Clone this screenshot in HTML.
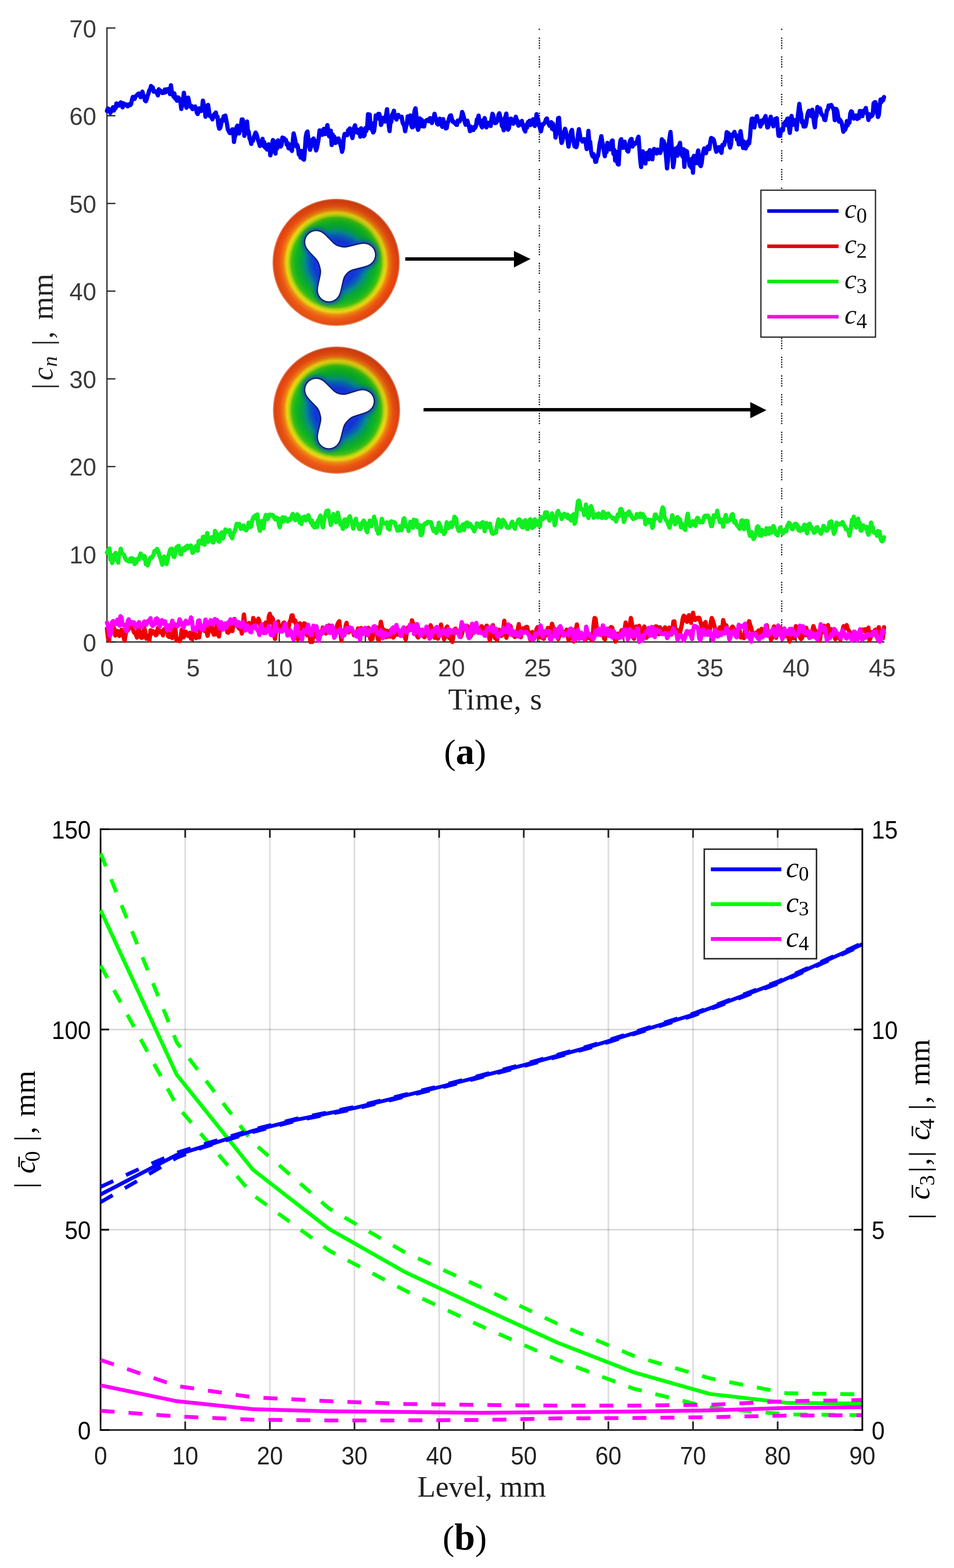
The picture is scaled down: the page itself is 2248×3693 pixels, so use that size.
<!DOCTYPE html>
<html><head><meta charset="utf-8"><title>Figure</title>
<style>
html,body{margin:0;padding:0;background:#fff;}
svg{display:block;}
.tk{font-family:'Liberation Sans', Arial, sans-serif;font-size:57px;}
.lb{font-family:'Liberation Serif', 'Times New Roman', serif;font-size:70px;}
.it{font-style:italic;}
</style></head><body>
<svg width="2248" height="3693" viewBox="0 0 2248 3693">
<defs>
<radialGradient id="ring" cx="0.5" cy="0.5" r="0.5">
<stop offset="0" stop-color="#1434d8"/>
<stop offset="0.34" stop-color="#1434d8"/>
<stop offset="0.42" stop-color="#0860b8"/>
<stop offset="0.49" stop-color="#049088"/>
<stop offset="0.56" stop-color="#06a838"/>
<stop offset="0.64" stop-color="#10b820"/>
<stop offset="0.70" stop-color="#40c010"/>
<stop offset="0.745" stop-color="#c0d810"/>
<stop offset="0.78" stop-color="#f0d810"/>
<stop offset="0.83" stop-color="#f08010"/>
<stop offset="0.89" stop-color="#f05010"/>
<stop offset="0.975" stop-color="#e04010"/>
<stop offset="1" stop-color="#f0a080"/>
</radialGradient>
<linearGradient id="shade" x1="0.7" y1="0" x2="0.3" y2="1">
<stop offset="0" stop-color="#000" stop-opacity="0.12"/>
<stop offset="0.5" stop-color="#000" stop-opacity="0"/>
<stop offset="1" stop-color="#ffff60" stop-opacity="0.10"/>
</linearGradient>
<filter id="goo" filterUnits="userSpaceOnUse" x="600" y="420" width="400" height="720">
<feGaussianBlur in="SourceGraphic" stdDeviation="7" result="b"/>
<feColorMatrix in="b" type="matrix" values="1 0 0 0 0  0 1 0 0 0  0 0 1 0 0  0 0 0 18 -8"/>
</filter>
<filter id="blr" filterUnits="userSpaceOnUse" x="600" y="420" width="400" height="720">
<feGaussianBlur stdDeviation="9"/>
</filter>
<filter id="blr2" filterUnits="userSpaceOnUse" x="600" y="420" width="400" height="720">
<feGaussianBlur stdDeviation="5"/>
</filter>
</defs>
<rect width="2248" height="3693" fill="#fff"/>

<line x1="1271" y1="67.5" x2="1271" y2="1512" stroke="#111" stroke-width="3" stroke-dasharray="3 2.8 3 2.8 3 2.8 3 2.8 3 18" stroke-dashoffset="23.2"/>
<line x1="1842" y1="67.5" x2="1842" y2="1512" stroke="#111" stroke-width="3" stroke-dasharray="3 2.8 3 2.8 3 2.8 3 2.8 3 18" stroke-dashoffset="23.2"/>
<circle cx="792" cy="618" r="150" fill="url(#ring)"/>
<circle cx="792" cy="618" r="150" fill="url(#shade)"/>
<g filter="url(#blr2)" opacity="0.7"><g stroke="#1438e0" stroke-width="68" stroke-linecap="round"><line x1="790" y1="617" x2="745" y2="570"/><line x1="790" y1="617" x2="858" y2="600"/><line x1="790" y1="617" x2="775" y2="684"/></g><circle cx="790" cy="617" r="45" fill="#1438e0"/></g>
<g filter="url(#goo)"><g stroke="#0a1a70" stroke-width="58" stroke-linecap="round"><line x1="790" y1="617" x2="745" y2="570"/><line x1="790" y1="617" x2="858" y2="600"/><line x1="790" y1="617" x2="775" y2="684"/></g><circle cx="790" cy="617" r="40" fill="#0a1a70"/></g>
<g filter="url(#goo)"><g stroke="#fff" stroke-width="52" stroke-linecap="round"><line x1="790" y1="617" x2="745" y2="570"/><line x1="790" y1="617" x2="858" y2="600"/><line x1="790" y1="617" x2="775" y2="684"/></g><circle cx="790" cy="617" r="37" fill="#fff"/></g>
<circle cx="793" cy="966" r="150" fill="url(#ring)"/>
<circle cx="793" cy="966" r="150" fill="url(#shade)"/>
<g filter="url(#blr2)" opacity="0.7"><g stroke="#1438e0" stroke-width="68" stroke-linecap="round"><line x1="791" y1="965" x2="745" y2="918"/><line x1="791" y1="965" x2="855" y2="945"/><line x1="791" y1="965" x2="775" y2="1030"/></g><circle cx="791" cy="965" r="45" fill="#1438e0"/></g>
<g filter="url(#goo)"><g stroke="#0a1a70" stroke-width="58" stroke-linecap="round"><line x1="791" y1="965" x2="745" y2="918"/><line x1="791" y1="965" x2="855" y2="945"/><line x1="791" y1="965" x2="775" y2="1030"/></g><circle cx="791" cy="965" r="40" fill="#0a1a70"/></g>
<g filter="url(#goo)"><g stroke="#fff" stroke-width="52" stroke-linecap="round"><line x1="791" y1="965" x2="745" y2="918"/><line x1="791" y1="965" x2="855" y2="945"/><line x1="791" y1="965" x2="775" y2="1030"/></g><circle cx="791" cy="965" r="37" fill="#fff"/></g>
<line x1="955" y1="610" x2="1214" y2="610" stroke="#000" stroke-width="8"/>
<polygon points="1211,591 1250,610 1211,630" fill="#000"/>
<line x1="998" y1="965" x2="1771" y2="965" stroke="#000" stroke-width="8"/>
<polygon points="1768,947 1806,966 1768,985" fill="#000"/>
<line x1="252" y1="64.5" x2="252" y2="1513.5" stroke="#262626" stroke-width="3"/>
<line x1="250.5" y1="1512" x2="2084" y2="1512" stroke="#262626" stroke-width="3"/>
<line x1="252" y1="1512.0" x2="272" y2="1512.0" stroke="#262626" stroke-width="3"/>
<text class="tk" x="227" y="1533.5" text-anchor="end" fill="#3a3a3a">0</text>
<line x1="252" y1="1305.4" x2="272" y2="1305.4" stroke="#262626" stroke-width="3"/>
<text class="tk" x="227" y="1326.9" text-anchor="end" fill="#3a3a3a">10</text>
<line x1="252" y1="1098.9" x2="272" y2="1098.9" stroke="#262626" stroke-width="3"/>
<text class="tk" x="227" y="1120.4" text-anchor="end" fill="#3a3a3a">20</text>
<line x1="252" y1="892.3" x2="272" y2="892.3" stroke="#262626" stroke-width="3"/>
<text class="tk" x="227" y="913.8" text-anchor="end" fill="#3a3a3a">30</text>
<line x1="252" y1="685.7" x2="272" y2="685.7" stroke="#262626" stroke-width="3"/>
<text class="tk" x="227" y="707.2" text-anchor="end" fill="#3a3a3a">40</text>
<line x1="252" y1="479.2" x2="272" y2="479.2" stroke="#262626" stroke-width="3"/>
<text class="tk" x="227" y="500.7" text-anchor="end" fill="#3a3a3a">50</text>
<line x1="252" y1="272.6" x2="272" y2="272.6" stroke="#262626" stroke-width="3"/>
<text class="tk" x="227" y="294.1" text-anchor="end" fill="#3a3a3a">60</text>
<line x1="252" y1="66.0" x2="272" y2="66.0" stroke="#262626" stroke-width="3"/>
<text class="tk" x="227" y="87.5" text-anchor="end" fill="#3a3a3a">70</text>
<line x1="252.0" y1="1512" x2="252.0" y2="1492" stroke="#262626" stroke-width="3"/>
<text class="tk" x="252.0" y="1593" text-anchor="middle" fill="#3a3a3a">0</text>
<line x1="455.0" y1="1512" x2="455.0" y2="1492" stroke="#262626" stroke-width="3"/>
<text class="tk" x="455.0" y="1593" text-anchor="middle" fill="#3a3a3a">5</text>
<line x1="658.0" y1="1512" x2="658.0" y2="1492" stroke="#262626" stroke-width="3"/>
<text class="tk" x="658.0" y="1593" text-anchor="middle" fill="#3a3a3a">10</text>
<line x1="861.0" y1="1512" x2="861.0" y2="1492" stroke="#262626" stroke-width="3"/>
<text class="tk" x="861.0" y="1593" text-anchor="middle" fill="#3a3a3a">15</text>
<line x1="1064.0" y1="1512" x2="1064.0" y2="1492" stroke="#262626" stroke-width="3"/>
<text class="tk" x="1064.0" y="1593" text-anchor="middle" fill="#3a3a3a">20</text>
<line x1="1267.0" y1="1512" x2="1267.0" y2="1492" stroke="#262626" stroke-width="3"/>
<text class="tk" x="1267.0" y="1593" text-anchor="middle" fill="#3a3a3a">25</text>
<line x1="1470.0" y1="1512" x2="1470.0" y2="1492" stroke="#262626" stroke-width="3"/>
<text class="tk" x="1470.0" y="1593" text-anchor="middle" fill="#3a3a3a">30</text>
<line x1="1673.0" y1="1512" x2="1673.0" y2="1492" stroke="#262626" stroke-width="3"/>
<text class="tk" x="1673.0" y="1593" text-anchor="middle" fill="#3a3a3a">35</text>
<line x1="1876.0" y1="1512" x2="1876.0" y2="1492" stroke="#262626" stroke-width="3"/>
<text class="tk" x="1876.0" y="1593" text-anchor="middle" fill="#3a3a3a">40</text>
<line x1="2079.0" y1="1512" x2="2079.0" y2="1492" stroke="#262626" stroke-width="3"/>
<text class="tk" x="2079.0" y="1593" text-anchor="middle" fill="#3a3a3a">45</text>
<polyline points="252.0,261.4 254.0,255.6 256.1,256.2 258.1,261.0 260.1,266.2 262.2,260.9 264.2,258.7 266.3,252.5 268.3,260.5 270.3,252.9 272.4,254.9 274.4,243.6 276.4,249.0 278.5,248.9 280.5,248.5 282.6,243.2 284.6,241.2 286.6,242.4 288.7,252.9 290.7,243.2 292.7,247.8 294.8,247.8 296.8,245.7 298.8,246.3 300.9,250.5 302.9,249.0 305.0,245.2 307.0,247.7 309.0,244.9 311.1,234.7 313.1,228.2 315.1,231.2 317.2,233.0 319.2,227.8 321.3,225.0 323.3,223.6 325.3,221.3 327.4,220.2 329.4,226.2 331.4,229.0 333.5,226.1 335.5,215.8 337.5,223.4 339.6,227.4 341.6,236.8 343.7,238.5 345.7,233.9 347.7,226.1 349.8,220.2 351.8,212.9 353.8,210.6 355.9,202.5 357.9,207.1 359.9,205.7 362.0,215.8 364.0,213.9 366.1,215.4 368.1,218.0 370.1,219.7 372.2,224.7 374.2,210.3 376.2,215.0 378.3,213.8 380.3,216.5 382.4,219.1 384.4,215.7 386.4,218.5 388.5,210.7 390.5,217.3 392.5,210.6 394.6,210.3 396.6,209.6 398.6,213.5 400.7,221.7 402.7,200.8 404.8,215.0 406.8,218.5 408.8,227.5 410.9,220.1 412.9,232.5 414.9,229.1 417.0,237.3 419.0,229.3 421.1,230.4 423.1,233.7 425.1,240.1 427.2,256.7 429.2,246.9 431.2,237.2 433.3,218.4 435.3,231.4 437.3,244.9 439.4,253.8 441.4,234.8 443.5,229.9 445.5,239.6 447.5,248.3 449.6,251.9 451.6,249.7 453.6,257.0 455.7,255.6 457.7,253.5 459.8,250.6 461.8,255.1 463.8,265.5 465.9,268.6 467.9,260.8 469.9,254.9 472.0,261.5 474.0,261.5 476.0,257.9 478.1,237.0 480.1,245.6 482.2,252.4 484.2,274.9 486.2,267.9 488.3,250.1 490.3,247.1 492.3,260.1 494.4,273.6 496.4,275.0 498.4,274.0 500.5,281.2 502.5,276.2 504.6,269.1 506.6,268.1 508.6,264.9 510.7,275.7 512.7,275.1 514.7,295.4 516.8,303.2 518.8,301.6 520.9,293.3 522.9,281.9 524.9,284.8 527.0,274.1 529.0,273.9 531.0,272.2 533.1,282.5 535.1,293.3 537.1,305.6 539.2,309.3 541.2,313.3 543.3,313.5 545.3,312.3 547.3,304.8 549.4,304.8 551.4,334.3 553.4,320.8 555.5,317.9 557.5,299.4 559.6,295.9 561.6,302.0 563.6,314.2 565.7,305.7 567.7,297.4 569.7,281.6 571.8,281.5 573.8,292.2 575.8,319.9 577.9,313.6 579.9,305.0 582.0,286.3 584.0,306.5 586.0,310.1 588.1,326.2 590.1,330.5 592.1,339.0 594.2,328.0 596.2,331.8 598.3,322.2 600.3,317.7 602.3,312.2 604.4,315.9 606.4,323.3 608.4,331.3 610.5,336.9 612.5,343.8 614.5,337.4 616.6,337.0 618.6,327.0 620.7,343.5 622.7,334.9 624.7,347.7 626.8,341.8 628.8,352.1 630.8,350.1 632.9,340.0 634.9,343.5 637.0,366.0 639.0,359.0 641.0,340.7 643.1,329.8 645.1,332.8 647.1,345.7 649.2,361.7 651.2,333.9 653.2,349.3 655.3,330.4 657.3,343.0 659.4,343.0 661.4,345.3 663.4,341.6 665.5,323.9 667.5,324.9 669.5,326.0 671.6,329.6 673.6,329.5 675.6,340.5 677.7,336.6 679.7,348.9 681.8,339.8 683.8,350.4 685.8,351.6 687.9,355.4 689.9,334.2 691.9,314.3 694.0,322.5 696.0,331.7 698.1,345.0 700.1,341.0 702.1,346.5 704.2,364.0 706.2,360.7 708.2,371.1 710.3,355.4 712.3,370.7 714.3,374.6 716.4,376.1 718.4,353.5 720.5,322.5 722.5,313.0 724.5,309.8 726.6,327.4 728.6,344.6 730.6,352.8 732.7,345.3 734.7,330.5 736.8,328.3 738.8,326.3 740.8,330.2 742.9,346.9 744.9,354.3 746.9,348.0 749.0,337.2 751.0,325.7 753.0,307.2 755.1,307.7 757.1,310.3 759.2,317.6 761.2,306.8 763.2,303.4 765.3,315.8 767.3,315.4 769.3,306.1 771.4,294.7 773.4,307.6 775.5,321.1 777.5,316.9 779.5,307.8 781.6,341.6 783.6,316.4 785.6,331.8 787.7,321.9 789.7,336.7 791.7,336.3 793.8,329.7 795.8,326.4 797.9,326.3 799.9,332.2 801.9,339.6 804.0,346.7 806.0,357.6 808.0,349.8 810.1,324.7 812.1,315.4 814.1,316.1 816.2,316.4 818.2,318.6 820.3,306.7 822.3,308.5 824.3,302.4 826.4,307.1 828.4,317.1 830.4,325.2 832.5,314.6 834.5,300.3 836.6,295.1 838.6,305.1 840.6,311.7 842.7,305.4 844.7,313.8 846.7,305.7 848.8,321.9 850.8,302.3 852.8,308.6 854.9,307.6 856.9,321.0 859.0,318.7 861.0,301.5 863.0,308.8 865.1,300.7 867.1,269.0 869.1,269.8 871.2,269.9 873.2,302.8 875.3,289.6 877.3,306.4 879.3,312.0 881.4,308.8 883.4,293.9 885.4,271.9 887.5,280.1 889.5,277.9 891.5,268.2 893.6,268.2 895.6,275.1 897.7,294.4 899.7,289.5 901.7,278.3 903.8,277.3 905.8,282.0 907.8,286.2 909.9,270.2 911.9,257.3 914.0,276.7 916.0,294.7 918.0,308.7 920.1,286.9 922.1,287.2 924.1,269.3 926.2,267.4 928.2,260.7 930.2,272.0 932.3,278.2 934.3,281.6 936.4,274.3 938.4,270.5 940.4,274.8 942.5,274.8 944.5,276.9 946.5,275.0 948.6,288.2 950.6,292.9 952.7,296.4 954.7,309.1 956.7,298.8 958.8,290.9 960.8,274.2 962.8,274.0 964.9,275.2 966.9,271.9 968.9,295.0 971.0,299.8 973.0,299.2 975.1,273.4 977.1,260.4 979.1,255.1 981.2,273.4 983.2,299.9 985.2,305.8 987.3,298.6 989.3,278.7 991.3,283.5 993.4,282.0 995.4,297.6 997.5,293.6 999.5,297.7 1001.5,285.5 1003.6,285.1 1005.6,282.8 1007.6,282.7 1009.7,285.5 1011.7,279.6 1013.8,278.2 1015.8,281.3 1017.8,289.8 1019.9,281.5 1021.9,278.4 1023.9,268.0 1026.0,276.9 1028.0,280.0 1030.0,291.3 1032.1,293.2 1034.1,288.1 1036.2,279.4 1038.2,288.5 1040.2,294.1 1042.3,298.8 1044.3,280.4 1046.3,291.9 1048.4,288.6 1050.4,302.5 1052.5,301.8 1054.5,290.8 1056.5,285.1 1058.6,277.8 1060.6,272.3 1062.6,271.9 1064.7,279.6 1066.7,286.7 1068.7,286.0 1070.8,289.7 1072.8,290.1 1074.9,293.9 1076.9,294.0 1078.9,283.9 1081.0,283.9 1083.0,285.9 1085.0,281.4 1087.1,275.1 1089.1,263.7 1091.2,269.5 1093.2,276.8 1095.2,287.9 1097.3,293.9 1099.3,287.3 1101.3,284.2 1103.4,292.2 1105.4,298.8 1107.4,308.9 1109.5,298.5 1111.5,306.3 1113.6,305.6 1115.6,306.1 1117.6,298.8 1119.7,300.9 1121.7,296.3 1123.7,281.4 1125.8,279.7 1127.8,272.3 1129.8,290.1 1131.9,283.2 1133.9,295.6 1136.0,299.9 1138.0,287.9 1140.0,283.0 1142.1,278.0 1144.1,287.7 1146.1,300.1 1148.2,297.0 1150.2,289.0 1152.3,290.5 1154.3,291.4 1156.3,296.7 1158.4,279.2 1160.4,267.9 1162.4,272.1 1164.5,283.9 1166.5,289.9 1168.5,289.6 1170.6,287.1 1172.6,283.3 1174.7,270.3 1176.7,266.8 1178.7,275.3 1180.8,282.8 1182.8,296.9 1184.8,296.0 1186.9,306.8 1188.9,279.5 1191.0,275.0 1193.0,267.5 1195.0,284.4 1197.1,305.5 1199.1,302.1 1201.1,290.6 1203.2,279.4 1205.2,279.8 1207.2,285.9 1209.3,291.5 1211.3,290.1 1213.4,286.3 1215.4,274.9 1217.4,281.1 1219.5,284.6 1221.5,295.9 1223.5,294.7 1225.6,292.8 1227.6,290.7 1229.7,284.8 1231.7,294.1 1233.7,299.3 1235.8,306.3 1237.8,309.7 1239.8,294.1 1241.9,300.8 1243.9,287.6 1245.9,294.2 1248.0,284.2 1250.0,294.7 1252.1,291.8 1254.1,286.3 1256.1,280.9 1258.2,281.2 1260.2,296.8 1262.2,290.5 1264.3,268.9 1266.3,277.0 1268.4,283.3 1270.4,295.7 1272.4,301.3 1274.5,309.7 1276.5,301.0 1278.5,292.4 1280.6,292.6 1282.6,290.4 1284.6,287.4 1286.7,280.8 1288.7,278.9 1290.8,288.0 1292.8,291.0 1294.8,296.3 1296.9,294.9 1298.9,287.7 1300.9,303.5 1303.0,291.2 1305.0,306.1 1307.0,296.9 1309.1,324.0 1311.1,312.3 1313.2,300.1 1315.2,278.5 1317.2,277.4 1319.3,304.9 1321.3,323.4 1323.3,336.6 1325.4,332.0 1327.4,315.4 1329.5,310.5 1331.5,303.2 1333.5,310.3 1335.6,322.1 1337.6,331.4 1339.6,345.3 1341.7,333.0 1343.7,322.6 1345.7,310.2 1347.8,306.0 1349.8,323.0 1351.9,334.7 1353.9,344.6 1355.9,345.7 1358.0,346.6 1360.0,339.7 1362.0,318.1 1364.1,304.3 1366.1,314.6 1368.2,328.0 1370.2,328.8 1372.2,333.4 1374.3,329.1 1376.3,327.6 1378.3,328.3 1380.4,337.9 1382.4,351.1 1384.4,342.9 1386.5,308.3 1388.5,332.8 1390.6,333.9 1392.6,354.1 1394.6,364.3 1396.7,368.7 1398.7,363.3 1400.7,368.5 1402.8,381.1 1404.8,380.8 1406.9,369.7 1408.9,367.7 1410.9,356.7 1413.0,339.0 1415.0,330.6 1417.0,320.7 1419.1,333.5 1421.1,342.3 1423.1,356.3 1425.2,367.9 1427.2,350.0 1429.3,358.1 1431.3,336.4 1433.3,337.9 1435.4,346.4 1437.4,351.9 1439.4,343.3 1441.5,332.2 1443.5,330.8 1445.5,362.4 1447.6,353.2 1449.6,378.2 1451.7,357.5 1453.7,376.9 1455.7,386.4 1457.8,387.6 1459.8,350.1 1461.8,331.6 1463.9,327.7 1465.9,348.1 1468.0,345.7 1470.0,347.8 1472.0,333.7 1474.1,342.3 1476.1,342.9 1478.1,355.1 1480.2,357.0 1482.2,347.4 1484.2,332.6 1486.3,328.3 1488.3,327.3 1490.4,345.1 1492.4,337.8 1494.4,340.2 1496.5,339.2 1498.5,335.4 1500.5,335.9 1502.6,326.6 1504.6,322.0 1506.7,349.8 1508.7,377.0 1510.7,393.4 1512.8,371.8 1514.8,356.4 1516.8,377.5 1518.9,371.3 1520.9,385.2 1522.9,360.7 1525.0,369.1 1527.0,358.9 1529.1,375.0 1531.1,353.6 1533.1,364.9 1535.2,362.7 1537.2,375.2 1539.2,356.3 1541.3,350.8 1543.3,352.5 1545.4,354.4 1547.4,361.6 1549.4,352.2 1551.5,354.6 1553.5,356.5 1555.5,360.4 1557.6,355.7 1559.6,328.1 1561.6,332.0 1563.7,332.2 1565.7,339.3 1567.8,353.6 1569.8,372.3 1571.8,396.6 1573.9,377.9 1575.9,338.6 1577.9,323.5 1580.0,310.8 1582.0,335.2 1584.1,361.4 1586.1,393.8 1588.1,382.1 1590.2,358.4 1592.2,349.8 1594.2,349.8 1596.3,366.7 1598.3,345.0 1600.3,342.8 1602.4,336.5 1604.4,358.3 1606.5,364.8 1608.5,368.8 1610.5,351.4 1612.6,393.1 1614.6,354.5 1616.6,362.5 1618.7,356.4 1620.7,373.4 1622.7,374.4 1624.8,390.2 1626.8,386.8 1628.9,394.9 1630.9,373.3 1632.9,406.8 1635.0,367.3 1637.0,378.8 1639.0,380.0 1641.1,384.3 1643.1,364.6 1645.2,354.4 1647.2,374.2 1649.2,388.1 1651.3,391.4 1653.3,384.4 1655.3,368.0 1657.4,355.9 1659.4,349.5 1661.4,358.7 1663.5,360.9 1665.5,352.3 1667.6,345.3 1669.6,346.1 1671.6,350.9 1673.7,334.5 1675.7,325.1 1677.7,325.7 1679.8,327.0 1681.8,329.3 1683.9,337.3 1685.9,349.6 1687.9,357.5 1690.0,351.4 1692.0,354.1 1694.0,346.4 1696.1,348.4 1698.1,356.0 1700.1,359.9 1702.2,341.4 1704.2,342.4 1706.3,341.7 1708.3,333.1 1710.3,331.0 1712.4,311.3 1714.4,317.6 1716.4,313.5 1718.5,340.1 1720.5,347.8 1722.6,339.7 1724.6,317.1 1726.6,320.3 1728.7,314.9 1730.7,310.6 1732.7,320.7 1734.8,318.2 1736.8,329.1 1738.8,324.2 1740.9,340.1 1742.9,323.8 1745.0,309.0 1747.0,322.3 1749.0,338.5 1751.1,348.5 1753.1,333.1 1755.1,338.1 1757.2,349.6 1759.2,339.5 1761.2,342.8 1763.3,332.5 1765.3,337.8 1767.4,320.5 1769.4,295.7 1771.4,279.6 1773.5,279.3 1775.5,293.3 1777.5,300.2 1779.6,287.0 1781.6,278.6 1783.7,273.4 1785.7,283.5 1787.7,286.5 1789.8,286.7 1791.8,297.9 1793.8,284.3 1795.9,291.6 1797.9,282.6 1799.9,284.7 1802.0,277.6 1804.0,273.3 1806.1,287.2 1808.1,300.2 1810.1,299.6 1812.2,287.3 1814.2,282.9 1816.2,274.9 1818.3,291.9 1820.3,291.1 1822.4,297.6 1824.4,289.9 1826.4,280.1 1828.5,289.4 1830.5,278.3 1832.5,300.1 1834.6,319.6 1836.6,320.3 1838.6,317.5 1840.7,306.6 1842.7,303.3 1844.8,306.9 1846.8,291.0 1848.8,291.8 1850.9,286.2 1852.9,294.7 1854.9,280.0 1857.0,278.9 1859.0,297.9 1861.1,313.0 1863.1,296.3 1865.1,273.0 1867.2,285.8 1869.2,293.7 1871.2,282.5 1873.3,285.9 1875.3,287.6 1877.3,305.2 1879.4,278.8 1881.4,262.2 1883.5,244.6 1885.5,260.2 1887.5,267.6 1889.6,288.6 1891.6,284.7 1893.6,298.1 1895.7,291.7 1897.7,297.8 1899.8,289.9 1901.8,275.8 1903.8,265.5 1905.9,260.9 1907.9,271.5 1909.9,271.4 1912.0,273.9 1914.0,258.4 1916.0,269.6 1918.1,288.2 1920.1,299.8 1922.2,277.6 1924.2,272.5 1926.2,251.9 1928.3,260.7 1930.3,260.2 1932.3,255.3 1934.4,265.6 1936.4,269.2 1938.4,271.6 1940.5,273.0 1942.5,282.1 1944.6,283.0 1946.6,272.0 1948.6,259.9 1950.7,257.9 1952.7,248.4 1954.7,248.4 1956.8,250.6 1958.8,247.3 1960.9,252.3 1962.9,254.3 1964.9,260.3 1967.0,283.0 1969.0,256.6 1971.0,257.0 1973.1,262.6 1975.1,274.8 1977.1,286.4 1979.2,281.7 1981.2,284.9 1983.3,289.3 1985.3,299.1 1987.3,310.4 1989.4,306.0 1991.4,305.6 1993.4,300.5 1995.5,285.2 1997.5,295.2 1999.6,286.0 2001.6,289.1 2003.6,267.4 2005.7,262.1 2007.7,263.7 2009.7,272.9 2011.8,279.3 2013.8,272.2 2015.8,276.8 2017.9,272.0 2019.9,280.2 2022.0,273.1 2024.0,278.0 2026.0,261.4 2028.1,266.6 2030.1,261.6 2032.1,273.6 2034.2,263.3 2036.2,260.6 2038.3,258.2 2040.3,254.3 2042.3,266.9 2044.4,268.5 2046.4,282.5 2048.4,269.1 2050.5,275.8 2052.5,272.6 2054.5,273.1 2056.6,269.6 2058.6,243.4 2060.7,240.9 2062.7,240.6 2064.7,250.0 2066.8,264.7 2068.8,275.5 2070.8,270.8 2072.9,250.2 2074.9,234.5 2076.9,240.6 2079.0,233.1 2081.0,236.3 2083.1,228.6" fill="none" stroke="#0000f0" stroke-width="10" stroke-linejoin="round" stroke-linecap="round"/>
<polyline points="252.0,1480.1 254.4,1502.5 256.9,1508.9 259.3,1485.9 261.8,1483.3 264.2,1481.0 266.7,1477.2 269.1,1479.8 271.6,1496.9 274.0,1492.9 276.4,1486.0 278.9,1492.9 281.3,1497.8 283.8,1490.0 286.2,1483.0 288.7,1491.9 291.1,1499.7 293.6,1509.3 296.0,1494.3 298.4,1482.8 300.9,1485.3 303.3,1480.6 305.8,1476.2 308.2,1468.0 310.7,1479.9 313.1,1480.3 315.6,1489.5 318.0,1491.2 320.5,1495.0 322.9,1501.7 325.3,1483.1 327.8,1484.0 330.2,1494.5 332.7,1502.0 335.1,1501.8 337.6,1488.2 340.0,1479.2 342.5,1488.8 344.9,1504.4 347.3,1497.6 349.8,1499.1 352.2,1507.9 354.7,1484.5 357.1,1493.3 359.6,1486.3 362.0,1488.3 364.5,1488.0 366.9,1496.4 369.3,1494.4 371.8,1479.2 374.2,1483.4 376.7,1489.0 379.1,1489.7 381.6,1486.8 384.0,1496.5 386.5,1482.1 388.9,1484.5 391.3,1478.9 393.8,1484.1 396.2,1498.5 398.7,1500.2 401.1,1493.3 403.6,1493.5 406.0,1502.7 408.5,1492.8 410.9,1479.6 413.3,1480.7 415.8,1508.8 418.2,1504.0 420.7,1508.2 423.1,1510.1 425.6,1505.2 428.0,1483.1 430.5,1482.4 432.9,1501.0 435.4,1493.7 437.8,1487.8 440.2,1492.0 442.7,1497.5 445.1,1498.4 447.6,1490.2 450.0,1504.2 452.5,1504.9 454.9,1497.2 457.4,1478.8 459.8,1489.8 462.2,1502.8 464.7,1499.9 467.1,1500.6 469.6,1501.1 472.0,1479.8 474.5,1475.8 476.9,1478.7 479.4,1480.7 481.8,1486.0 484.2,1460.1 486.7,1485.5 489.1,1497.6 491.6,1488.4 494.0,1483.2 496.5,1470.2 498.9,1466.6 501.4,1488.3 503.8,1494.7 506.2,1489.7 508.7,1493.9 511.1,1472.0 513.6,1472.5 516.0,1499.1 518.5,1482.2 520.9,1477.4 523.4,1469.3 525.8,1474.4 528.2,1477.3 530.7,1469.7 533.1,1475.7 535.6,1489.1 538.0,1490.2 540.5,1474.9 542.9,1468.6 545.4,1485.7 547.8,1486.3 550.3,1460.3 552.7,1457.7 555.1,1469.5 557.6,1465.1 560.0,1471.2 562.5,1479.4 564.9,1481.5 567.4,1478.7 569.8,1492.2 572.3,1470.4 574.7,1447.3 577.1,1465.1 579.6,1473.4 582.0,1480.0 584.5,1471.6 586.9,1467.2 589.4,1470.6 591.8,1479.4 594.3,1480.1 596.7,1455.4 599.1,1460.3 601.6,1469.0 604.0,1466.7 606.5,1464.4 608.9,1456.9 611.4,1464.5 613.8,1476.4 616.3,1474.7 618.7,1470.4 621.1,1477.0 623.6,1473.9 626.0,1466.3 628.5,1476.1 630.9,1480.1 633.4,1452.2 635.8,1445.5 638.3,1466.1 640.7,1453.7 643.1,1457.7 645.6,1494.2 648.0,1504.8 650.5,1486.2 652.9,1481.9 655.4,1463.7 657.8,1481.5 660.3,1480.4 662.7,1473.6 665.1,1479.8 667.6,1467.5 670.0,1466.2 672.5,1469.5 674.9,1471.4 677.4,1479.8 679.8,1479.5 682.3,1464.8 684.7,1460.8 687.2,1449.6 689.6,1449.2 692.0,1463.7 694.5,1460.2 696.9,1464.5 699.4,1486.8 701.8,1505.7 704.3,1487.7 706.7,1468.0 709.2,1471.8 711.6,1479.2 714.0,1483.6 716.5,1468.1 718.9,1469.0 721.4,1490.9 723.8,1496.5 726.3,1478.2 728.7,1483.1 731.2,1511.9 733.6,1503.1 736.0,1511.8 738.5,1489.2 740.9,1478.8 743.4,1490.2 745.8,1500.3 748.3,1495.6 750.7,1487.4 753.2,1490.7 755.6,1491.3 758.0,1492.8 760.5,1477.9 762.9,1489.6 765.4,1487.2 767.8,1492.0 770.3,1487.8 772.7,1482.1 775.2,1472.9 777.6,1479.0 780.0,1480.2 782.5,1476.9 784.9,1488.6 787.4,1488.9 789.8,1480.3 792.3,1484.5 794.7,1471.6 797.2,1466.2 799.6,1463.1 802.1,1487.7 804.5,1509.2 806.9,1485.7 809.4,1487.0 811.8,1495.4 814.3,1474.7 816.7,1467.0 819.2,1486.5 821.6,1489.6 824.1,1477.9 826.5,1480.8 828.9,1486.2 831.4,1485.7 833.8,1495.9 836.3,1496.1 838.7,1492.2 841.2,1490.3 843.6,1480.1 846.1,1489.5 848.5,1488.2 850.9,1479.1 853.4,1483.9 855.8,1481.2 858.3,1483.2 860.7,1490.6 863.2,1487.7 865.6,1486.1 868.1,1478.4 870.5,1495.3 872.9,1505.9 875.4,1503.3 877.8,1504.9 880.3,1488.5 882.7,1484.8 885.2,1479.7 887.6,1477.5 890.1,1504.6 892.5,1508.8 894.9,1483.9 897.4,1464.4 899.8,1475.1 902.3,1497.8 904.7,1482.8 907.2,1486.8 909.6,1500.5 912.1,1485.6 914.5,1499.0 917.0,1494.4 919.4,1499.2 921.8,1482.8 924.3,1483.5 926.7,1501.5 929.2,1498.1 931.6,1487.4 934.1,1488.3 936.5,1494.8 939.0,1489.9 941.4,1485.1 943.8,1497.6 946.3,1495.1 948.7,1486.8 951.2,1487.3 953.6,1499.6 956.1,1506.3 958.5,1490.5 961.0,1478.0 963.4,1478.8 965.8,1484.4 968.3,1481.6 970.7,1461.0 973.2,1467.9 975.6,1471.6 978.1,1488.6 980.5,1488.5 983.0,1498.5 985.4,1501.6 987.8,1490.5 990.3,1491.1 992.7,1484.2 995.2,1483.6 997.6,1497.8 1000.1,1500.8 1002.5,1496.0 1005.0,1493.5 1007.4,1485.0 1009.8,1491.9 1012.3,1489.2 1014.7,1472.6 1017.2,1480.0 1019.6,1484.2 1022.1,1493.0 1024.5,1502.3 1027.0,1484.5 1029.4,1493.4 1031.9,1504.2 1034.3,1497.9 1036.7,1485.8 1039.2,1470.9 1041.6,1483.8 1044.1,1491.3 1046.5,1505.9 1049.0,1500.6 1051.4,1479.0 1053.9,1475.5 1056.3,1495.5 1058.7,1502.7 1061.2,1487.8 1063.6,1509.5 1066.1,1512.0 1068.5,1493.5 1071.0,1482.6 1073.4,1480.6 1075.9,1490.3 1078.3,1488.5 1080.7,1485.5 1083.2,1493.5 1085.6,1500.2 1088.1,1494.4 1090.5,1485.8 1093.0,1473.5 1095.4,1477.9 1097.9,1479.7 1100.3,1473.8 1102.7,1476.9 1105.2,1486.1 1107.6,1501.1 1110.1,1496.8 1112.5,1483.9 1115.0,1480.3 1117.4,1481.4 1119.9,1480.4 1122.3,1478.4 1124.7,1479.3 1127.2,1490.6 1129.6,1488.3 1132.1,1483.8 1134.5,1474.9 1137.0,1476.7 1139.4,1488.7 1141.9,1489.8 1144.3,1482.1 1146.8,1473.5 1149.2,1477.2 1151.6,1492.8 1154.1,1508.6 1156.5,1497.6 1159.0,1481.3 1161.4,1472.4 1163.9,1490.8 1166.3,1502.9 1168.8,1502.1 1171.2,1507.9 1173.6,1497.2 1176.1,1483.2 1178.5,1485.4 1181.0,1497.7 1183.4,1496.2 1185.9,1481.8 1188.3,1461.9 1190.8,1482.3 1193.2,1502.0 1195.6,1493.9 1198.1,1483.4 1200.5,1477.1 1203.0,1474.4 1205.4,1485.0 1207.9,1496.1 1210.3,1492.1 1212.8,1500.2 1215.2,1498.0 1217.6,1498.7 1220.1,1481.7 1222.5,1470.0 1225.0,1493.3 1227.4,1500.8 1229.9,1480.8 1232.3,1479.9 1234.8,1487.5 1237.2,1479.7 1239.6,1476.8 1242.1,1476.5 1244.5,1486.0 1247.0,1495.0 1249.4,1506.4 1251.9,1502.5 1254.3,1488.5 1256.8,1490.8 1259.2,1492.9 1261.6,1499.2 1264.1,1482.3 1266.5,1477.1 1269.0,1500.7 1271.4,1501.6 1273.9,1495.6 1276.3,1486.0 1278.8,1502.8 1281.2,1504.7 1283.7,1491.7 1286.1,1497.0 1288.5,1485.3 1291.0,1478.7 1293.4,1491.3 1295.9,1497.8 1298.3,1479.5 1300.8,1469.1 1303.2,1476.6 1305.7,1486.8 1308.1,1486.3 1310.5,1483.7 1313.0,1495.0 1315.4,1505.5 1317.9,1497.9 1320.3,1488.0 1322.8,1483.3 1325.2,1489.9 1327.7,1488.7 1330.1,1488.1 1332.5,1489.4 1335.0,1483.0 1337.4,1496.6 1339.9,1507.8 1342.3,1504.7 1344.8,1499.9 1347.2,1492.4 1349.7,1495.6 1352.1,1510.9 1354.5,1508.0 1357.0,1483.0 1359.4,1470.7 1361.9,1489.1 1364.3,1502.9 1366.8,1495.9 1369.2,1498.6 1371.7,1502.5 1374.1,1499.5 1376.5,1505.2 1379.0,1507.6 1381.4,1503.3 1383.9,1496.9 1386.3,1501.8 1388.8,1502.6 1391.2,1501.0 1393.7,1507.5 1396.1,1508.4 1398.6,1473.0 1401.0,1455.4 1403.4,1457.1 1405.9,1477.8 1408.3,1489.2 1410.8,1494.5 1413.2,1490.5 1415.7,1487.5 1418.1,1485.1 1420.6,1477.1 1423.0,1502.9 1425.4,1506.1 1427.9,1491.2 1430.3,1489.6 1432.8,1495.5 1435.2,1481.9 1437.7,1479.1 1440.1,1476.9 1442.6,1478.4 1445.0,1489.5 1447.4,1496.8 1449.9,1511.1 1452.3,1508.0 1454.8,1492.9 1457.2,1492.2 1459.7,1502.3 1462.1,1494.8 1464.6,1484.3 1467.0,1488.9 1469.4,1494.9 1471.9,1482.8 1474.3,1466.2 1476.8,1475.9 1479.2,1487.4 1481.7,1487.7 1484.1,1474.3 1486.6,1455.5 1489.0,1467.7 1491.4,1491.2 1493.9,1504.4 1496.3,1480.7 1498.8,1475.4 1501.2,1489.4 1503.7,1477.5 1506.1,1474.0 1508.6,1483.8 1511.0,1505.3 1513.5,1497.8 1515.9,1482.8 1518.3,1475.4 1520.8,1490.6 1523.2,1502.2 1525.7,1491.7 1528.1,1498.1 1530.6,1497.3 1533.0,1481.4 1535.5,1480.3 1537.9,1496.6 1540.3,1493.7 1542.8,1476.7 1545.2,1475.2 1547.7,1475.6 1550.1,1491.5 1552.6,1493.8 1555.0,1477.2 1557.5,1483.2 1559.9,1487.8 1562.3,1490.6 1564.8,1481.0 1567.2,1477.4 1569.7,1493.3 1572.1,1489.6 1574.6,1481.7 1577.0,1478.1 1579.5,1484.9 1581.9,1494.6 1584.3,1485.6 1586.8,1464.1 1589.2,1463.4 1591.7,1489.6 1594.1,1490.0 1596.6,1483.9 1599.0,1496.8 1601.5,1494.2 1603.9,1483.0 1606.3,1473.1 1608.8,1457.4 1611.2,1450.2 1613.7,1452.1 1616.1,1461.7 1618.6,1464.6 1621.0,1459.9 1623.5,1448.9 1625.9,1452.7 1628.4,1467.0 1630.8,1451.3 1633.2,1443.1 1635.7,1457.3 1638.1,1460.3 1640.6,1456.0 1643.0,1457.7 1645.5,1454.8 1647.9,1455.3 1650.4,1464.4 1652.8,1472.6 1655.2,1485.8 1657.7,1487.2 1660.1,1468.0 1662.6,1465.0 1665.0,1480.0 1667.5,1485.3 1669.9,1488.7 1672.4,1486.7 1674.8,1466.3 1677.2,1455.4 1679.7,1461.4 1682.1,1469.1 1684.6,1479.7 1687.0,1494.7 1689.5,1493.1 1691.9,1487.4 1694.4,1481.6 1696.8,1477.3 1699.2,1487.8 1701.7,1485.8 1704.1,1460.4 1706.6,1470.5 1709.0,1483.7 1711.5,1472.8 1713.9,1482.0 1716.4,1492.1 1718.8,1491.4 1721.2,1484.4 1723.7,1479.1 1726.1,1475.7 1728.6,1479.1 1731.0,1489.4 1733.5,1489.7 1735.9,1488.3 1738.4,1498.3 1740.8,1488.5 1743.3,1485.9 1745.7,1501.4 1748.1,1496.1 1750.6,1501.6 1753.0,1502.9 1755.5,1485.7 1757.9,1488.5 1760.4,1490.2 1762.8,1471.5 1765.3,1463.0 1767.7,1472.1 1770.1,1478.3 1772.6,1489.1 1775.0,1494.7 1777.5,1493.2 1779.9,1492.1 1782.4,1489.4 1784.8,1495.6 1787.3,1484.9 1789.7,1486.8 1792.1,1496.1 1794.6,1481.1 1797.0,1484.0 1799.5,1496.4 1801.9,1496.0 1804.4,1489.6 1806.8,1472.6 1809.3,1488.9 1811.7,1489.2 1814.1,1488.5 1816.6,1506.5 1819.0,1503.3 1821.5,1481.9 1823.9,1475.3 1826.4,1483.4 1828.8,1502.1 1831.3,1492.9 1833.7,1483.7 1836.1,1487.1 1838.6,1477.7 1841.0,1498.5 1843.5,1489.3 1845.9,1496.4 1848.4,1499.1 1850.8,1494.3 1853.3,1494.5 1855.7,1492.1 1858.2,1503.0 1860.6,1510.9 1863.0,1499.1 1865.5,1496.8 1867.9,1500.5 1870.4,1503.7 1872.8,1494.9 1875.3,1474.7 1877.7,1487.0 1880.2,1490.5 1882.6,1493.8 1885.0,1501.2 1887.5,1505.2 1889.9,1502.7 1892.4,1487.9 1894.8,1490.4 1897.3,1495.9 1899.7,1478.4 1902.2,1487.5 1904.6,1497.8 1907.0,1497.3 1909.5,1496.4 1911.9,1499.9 1914.4,1484.0 1916.8,1474.5 1919.3,1483.2 1921.7,1485.1 1924.2,1497.7 1926.6,1501.5 1929.0,1503.4 1931.5,1509.0 1933.9,1494.0 1936.4,1486.4 1938.8,1484.0 1941.3,1473.7 1943.7,1490.4 1946.2,1491.6 1948.6,1481.8 1951.0,1472.3 1953.5,1493.2 1955.9,1501.8 1958.4,1481.7 1960.8,1484.6 1963.3,1492.4 1965.7,1495.0 1968.2,1505.4 1970.6,1500.1 1973.0,1494.4 1975.5,1496.6 1977.9,1503.5 1980.4,1506.7 1982.8,1493.1 1985.3,1483.8 1987.7,1474.8 1990.2,1476.8 1992.6,1479.8 1995.1,1472.2 1997.5,1480.9 1999.9,1484.6 2002.4,1489.2 2004.8,1495.4 2007.3,1495.1 2009.7,1503.1 2012.2,1503.3 2014.6,1488.3 2017.1,1499.9 2019.5,1500.8 2021.9,1493.8 2024.4,1501.5 2026.8,1496.3 2029.3,1492.0 2031.7,1482.7 2034.2,1485.7 2036.6,1483.2 2039.1,1481.9 2041.5,1490.9 2043.9,1486.3 2046.4,1478.3 2048.8,1507.8 2051.3,1502.2 2053.7,1488.9 2056.2,1495.4 2058.6,1491.2 2061.1,1484.6 2063.5,1482.9 2065.9,1500.6 2068.4,1491.1 2070.8,1477.2 2073.3,1492.5 2075.7,1495.3 2078.2,1497.5 2080.6,1503.1 2083.1,1477.3" fill="none" stroke="#ee0000" stroke-width="10" stroke-linejoin="round" stroke-linecap="round"/>
<polyline points="252.0,1301.9 254.0,1298.2 256.1,1294.5 258.1,1291.7 260.1,1318.0 262.2,1309.9 264.2,1326.0 266.3,1320.3 268.3,1311.9 270.3,1305.2 272.4,1302.2 274.4,1318.1 276.4,1317.4 278.5,1325.2 280.5,1305.7 282.6,1302.0 284.6,1292.3 286.6,1302.4 288.7,1304.1 290.7,1305.9 292.7,1307.7 294.8,1313.9 296.8,1318.3 298.8,1320.0 300.9,1320.8 302.9,1321.8 305.0,1322.6 307.0,1315.5 309.0,1322.7 311.1,1314.5 313.1,1322.2 315.1,1316.7 317.2,1328.5 319.2,1326.1 321.3,1324.7 323.3,1316.6 325.3,1318.8 327.4,1317.1 329.4,1308.6 331.4,1303.7 333.5,1307.4 335.5,1312.2 337.5,1315.3 339.6,1309.2 341.6,1311.2 343.7,1328.8 345.7,1326.4 347.7,1331.8 349.8,1326.9 351.8,1318.7 353.8,1314.6 355.9,1312.5 357.9,1313.5 359.9,1309.5 362.0,1306.2 364.0,1297.6 366.1,1298.0 368.1,1300.0 370.1,1292.8 372.2,1297.3 374.2,1302.3 376.2,1310.4 378.3,1315.4 380.3,1323.0 382.4,1330.1 384.4,1322.4 386.4,1310.8 388.5,1313.5 390.5,1324.7 392.5,1328.2 394.6,1320.1 396.6,1309.5 398.6,1303.4 400.7,1295.0 402.7,1292.8 404.8,1292.3 406.8,1304.0 408.8,1310.8 410.9,1312.0 412.9,1301.8 414.9,1290.8 417.0,1288.1 419.0,1286.7 421.1,1285.5 423.1,1297.3 425.1,1304.7 427.2,1305.8 429.2,1292.4 431.2,1295.8 433.3,1291.2 435.3,1295.9 437.3,1288.3 439.4,1292.3 441.4,1285.2 443.5,1290.9 445.5,1286.2 447.5,1289.1 449.6,1284.7 451.6,1290.8 453.6,1302.1 455.7,1300.7 457.7,1297.5 459.8,1288.8 461.8,1286.4 463.8,1287.5 465.9,1297.0 467.9,1274.9 469.9,1273.6 472.0,1274.7 474.0,1276.6 476.0,1280.4 478.1,1264.5 480.1,1264.0 482.2,1282.9 484.2,1273.2 486.2,1271.8 488.3,1255.5 490.3,1276.3 492.3,1270.8 494.4,1272.3 496.4,1267.1 498.4,1265.2 500.5,1277.0 502.5,1277.7 504.6,1273.1 506.6,1250.3 508.6,1255.1 510.7,1256.2 512.7,1269.9 514.7,1274.6 516.8,1275.7 518.8,1265.4 520.9,1256.2 522.9,1253.8 524.9,1268.6 527.0,1263.8 529.0,1256.1 531.0,1247.0 533.1,1251.3 535.1,1252.3 537.1,1250.7 539.2,1251.4 541.2,1248.8 543.3,1261.3 545.3,1263.6 547.3,1267.7 549.4,1256.0 551.4,1254.4 553.4,1250.3 555.5,1243.4 557.5,1234.1 559.6,1234.0 561.6,1234.5 563.6,1234.1 565.7,1240.8 567.7,1245.7 569.7,1240.3 571.8,1239.6 573.8,1237.6 575.8,1245.9 577.9,1244.0 579.9,1249.1 582.0,1245.8 584.0,1238.7 586.0,1230.9 588.1,1238.4 590.1,1240.9 592.1,1239.9 594.2,1226.3 596.2,1220.3 598.3,1217.0 600.3,1215.4 602.3,1213.8 604.4,1221.8 606.4,1211.7 608.4,1234.1 610.5,1241.7 612.5,1250.3 614.5,1234.5 616.6,1226.9 618.6,1229.6 620.7,1244.0 622.7,1229.8 624.7,1218.0 626.8,1212.7 628.8,1222.3 630.8,1222.5 632.9,1217.9 634.9,1212.2 637.0,1212.2 639.0,1214.2 641.0,1212.7 643.1,1213.4 645.1,1216.8 647.1,1221.2 649.2,1223.6 651.2,1218.8 653.2,1221.1 655.3,1220.8 657.3,1236.0 659.4,1241.9 661.4,1230.4 663.4,1227.5 665.5,1218.4 667.5,1228.6 669.5,1219.7 671.6,1218.8 673.6,1221.0 675.6,1225.3 677.7,1228.0 679.7,1223.3 681.8,1222.0 683.8,1224.4 685.8,1221.7 687.9,1214.6 689.9,1210.2 691.9,1217.7 694.0,1222.7 696.0,1225.4 698.1,1219.1 700.1,1211.5 702.1,1213.1 704.2,1215.8 706.2,1230.5 708.2,1231.1 710.3,1234.2 712.3,1221.1 714.3,1218.1 716.4,1218.3 718.4,1216.8 720.5,1225.8 722.5,1218.3 724.5,1223.4 726.6,1213.4 728.6,1219.7 730.6,1226.0 732.7,1231.2 734.7,1225.8 736.8,1237.8 738.8,1238.9 740.8,1242.2 742.9,1232.7 744.9,1239.5 746.9,1241.4 749.0,1225.9 751.0,1227.9 753.0,1218.9 755.1,1214.3 757.1,1228.8 759.2,1237.1 761.2,1242.3 763.2,1228.0 765.3,1217.7 767.3,1210.8 769.3,1203.4 771.4,1204.1 773.4,1202.2 775.5,1218.0 777.5,1225.2 779.5,1236.3 781.6,1225.7 783.6,1225.7 785.6,1210.7 787.7,1214.8 789.7,1226.0 791.7,1230.0 793.8,1226.7 795.8,1207.5 797.9,1216.3 799.9,1226.4 801.9,1235.2 804.0,1235.8 806.0,1238.8 808.0,1245.7 810.1,1226.7 812.1,1223.4 814.1,1223.6 816.2,1240.7 818.2,1237.9 820.3,1226.3 822.3,1219.4 824.3,1215.8 826.4,1223.1 828.4,1227.9 830.4,1236.2 832.5,1245.1 834.5,1235.6 836.6,1235.2 838.6,1222.0 840.6,1235.0 842.7,1233.3 844.7,1239.9 846.7,1245.9 848.8,1246.1 850.8,1243.6 852.8,1232.0 854.9,1229.3 856.9,1226.1 859.0,1229.3 861.0,1232.3 863.0,1248.7 865.1,1253.4 867.1,1244.8 869.1,1233.4 871.2,1226.0 873.2,1235.2 875.3,1239.2 877.3,1232.2 879.3,1228.9 881.4,1217.0 883.4,1224.9 885.4,1228.2 887.5,1248.0 889.5,1250.1 891.5,1256.7 893.6,1256.3 895.6,1249.8 897.7,1237.3 899.7,1221.9 901.7,1228.2 903.8,1232.2 905.8,1233.4 907.8,1232.7 909.9,1232.1 911.9,1230.3 914.0,1244.3 916.0,1239.8 918.0,1247.2 920.1,1229.3 922.1,1227.8 924.1,1228.9 926.2,1229.2 928.2,1231.3 930.2,1230.6 932.3,1237.8 934.3,1241.5 936.4,1249.7 938.4,1249.3 940.4,1248.9 942.5,1239.3 944.5,1245.5 946.5,1248.6 948.6,1238.0 950.6,1222.2 952.7,1220.7 954.7,1233.1 956.7,1240.3 958.8,1239.5 960.8,1238.8 962.8,1250.5 964.9,1237.4 966.9,1228.9 968.9,1240.3 971.0,1238.6 973.0,1243.0 975.1,1223.9 977.1,1229.4 979.1,1227.9 981.2,1225.4 983.2,1241.4 985.2,1235.4 987.3,1243.3 989.3,1237.3 991.3,1260.3 993.4,1260.0 995.4,1255.9 997.5,1236.5 999.5,1237.3 1001.5,1232.7 1003.6,1233.0 1005.6,1233.4 1007.6,1229.0 1009.7,1230.1 1011.7,1229.7 1013.8,1229.7 1015.8,1230.2 1017.8,1239.5 1019.9,1245.5 1021.9,1250.6 1023.9,1245.5 1026.0,1252.7 1028.0,1255.3 1030.0,1251.5 1032.1,1242.1 1034.1,1231.0 1036.2,1236.2 1038.2,1239.7 1040.2,1251.1 1042.3,1249.7 1044.3,1250.7 1046.3,1257.8 1048.4,1254.4 1050.4,1246.0 1052.5,1230.1 1054.5,1237.9 1056.5,1244.2 1058.6,1239.8 1060.6,1234.1 1062.6,1230.8 1064.7,1241.1 1066.7,1234.6 1068.7,1230.9 1070.8,1217.1 1072.8,1219.4 1074.9,1221.7 1076.9,1240.3 1078.9,1244.7 1081.0,1250.5 1083.0,1245.3 1085.0,1249.8 1087.1,1239.5 1089.1,1243.4 1091.2,1234.9 1093.2,1248.2 1095.2,1240.7 1097.3,1233.3 1099.3,1230.9 1101.3,1230.8 1103.4,1240.1 1105.4,1234.1 1107.4,1233.8 1109.5,1236.9 1111.5,1239.4 1113.6,1244.8 1115.6,1245.8 1117.6,1251.4 1119.7,1243.1 1121.7,1242.6 1123.7,1232.5 1125.8,1234.7 1127.8,1236.1 1129.8,1234.0 1131.9,1241.6 1133.9,1232.9 1136.0,1230.7 1138.0,1229.9 1140.0,1238.3 1142.1,1251.1 1144.1,1235.0 1146.1,1232.0 1148.2,1233.7 1150.2,1241.6 1152.3,1240.3 1154.3,1233.4 1156.3,1242.9 1158.4,1253.6 1160.4,1257.1 1162.4,1257.2 1164.5,1253.7 1166.5,1255.3 1168.5,1254.6 1170.6,1241.3 1172.6,1231.4 1174.7,1223.3 1176.7,1230.2 1178.7,1240.5 1180.8,1241.5 1182.8,1236.1 1184.8,1224.3 1186.9,1226.3 1188.9,1229.7 1191.0,1233.7 1193.0,1238.8 1195.0,1242.6 1197.1,1241.1 1199.1,1243.1 1201.1,1239.5 1203.2,1239.0 1205.2,1231.2 1207.2,1228.7 1209.3,1239.1 1211.3,1241.3 1213.4,1245.3 1215.4,1236.1 1217.4,1233.0 1219.5,1231.3 1221.5,1224.1 1223.5,1223.3 1225.6,1224.8 1227.6,1238.1 1229.7,1241.0 1231.7,1242.4 1233.7,1230.1 1235.8,1226.7 1237.8,1225.1 1239.8,1237.2 1241.9,1245.9 1243.9,1245.5 1245.9,1234.8 1248.0,1224.4 1250.0,1223.0 1252.1,1229.1 1254.1,1243.4 1256.1,1238.9 1258.2,1240.7 1260.2,1223.1 1262.2,1228.0 1264.3,1229.2 1266.3,1235.3 1268.4,1237.5 1270.4,1226.6 1272.4,1239.3 1274.5,1217.5 1276.5,1221.3 1278.5,1223.1 1280.6,1220.9 1282.6,1220.1 1284.6,1207.1 1286.7,1207.7 1288.7,1206.6 1290.8,1219.0 1292.8,1221.9 1294.8,1226.2 1296.9,1217.3 1298.9,1215.4 1300.9,1209.1 1303.0,1218.0 1305.0,1220.9 1307.0,1237.1 1309.1,1230.8 1311.1,1217.1 1313.2,1207.3 1315.2,1203.3 1317.2,1209.1 1319.3,1210.8 1321.3,1213.7 1323.3,1222.4 1325.4,1219.6 1327.4,1216.5 1329.5,1210.1 1331.5,1214.1 1333.5,1212.3 1335.6,1218.4 1337.6,1212.3 1339.6,1221.3 1341.7,1216.0 1343.7,1219.5 1345.7,1226.1 1347.8,1215.0 1349.8,1215.2 1351.9,1210.9 1353.9,1233.7 1355.9,1227.9 1358.0,1215.9 1360.0,1195.1 1362.0,1180.4 1364.1,1179.0 1366.1,1184.1 1368.2,1198.4 1370.2,1198.7 1372.2,1201.1 1374.3,1200.1 1376.3,1213.0 1378.3,1212.2 1380.4,1188.6 1382.4,1198.0 1384.4,1196.4 1386.5,1219.9 1388.5,1212.3 1390.6,1212.4 1392.6,1192.0 1394.6,1197.9 1396.7,1204.5 1398.7,1219.5 1400.7,1218.1 1402.8,1213.8 1404.8,1211.8 1406.9,1214.9 1408.9,1218.3 1410.9,1209.3 1413.0,1211.3 1415.0,1214.5 1417.0,1218.9 1419.1,1219.9 1421.1,1205.5 1423.1,1207.6 1425.2,1211.8 1427.2,1220.1 1429.3,1219.1 1431.3,1210.7 1433.3,1209.3 1435.4,1213.6 1437.4,1215.4 1439.4,1217.2 1441.5,1218.2 1443.5,1221.0 1445.5,1219.4 1447.6,1221.6 1449.6,1224.4 1451.7,1228.1 1453.7,1220.1 1455.7,1211.7 1457.8,1216.5 1459.8,1214.5 1461.8,1199.4 1463.9,1198.9 1465.9,1203.4 1468.0,1212.2 1470.0,1229.2 1472.0,1224.5 1474.1,1213.2 1476.1,1209.2 1478.1,1210.3 1480.2,1213.0 1482.2,1204.6 1484.2,1209.6 1486.3,1211.1 1488.3,1216.9 1490.4,1220.1 1492.4,1222.5 1494.4,1220.7 1496.5,1220.7 1498.5,1219.6 1500.5,1210.7 1502.6,1213.5 1504.6,1212.1 1506.7,1217.8 1508.7,1209.5 1510.7,1211.5 1512.8,1217.8 1514.8,1210.8 1516.8,1217.6 1518.9,1217.0 1520.9,1234.7 1522.9,1228.0 1525.0,1225.4 1527.0,1224.0 1529.1,1230.8 1531.1,1230.6 1533.1,1224.6 1535.2,1226.8 1537.2,1243.2 1539.2,1239.1 1541.3,1222.5 1543.3,1212.0 1545.4,1211.8 1547.4,1220.3 1549.4,1218.6 1551.5,1220.8 1553.5,1222.7 1555.5,1227.2 1557.6,1214.7 1559.6,1201.0 1561.6,1195.0 1563.7,1199.1 1565.7,1218.5 1567.8,1221.7 1569.8,1225.5 1571.8,1227.6 1573.9,1233.7 1575.9,1238.2 1577.9,1243.0 1580.0,1227.0 1582.0,1225.1 1584.1,1213.5 1586.1,1219.4 1588.1,1228.4 1590.2,1234.6 1592.2,1233.6 1594.2,1223.6 1596.3,1217.7 1598.3,1222.3 1600.3,1230.1 1602.4,1223.3 1604.4,1241.8 1606.5,1232.6 1608.5,1242.9 1610.5,1243.0 1612.6,1245.5 1614.6,1248.0 1616.6,1234.3 1618.7,1217.4 1620.7,1209.9 1622.7,1224.0 1624.8,1236.9 1626.8,1239.4 1628.9,1232.1 1630.9,1230.8 1632.9,1227.2 1635.0,1236.1 1637.0,1237.1 1639.0,1238.7 1641.1,1224.3 1643.1,1219.6 1645.2,1220.6 1647.2,1225.1 1649.2,1230.1 1651.3,1229.6 1653.3,1229.8 1655.3,1230.0 1657.4,1224.0 1659.4,1216.5 1661.4,1214.6 1663.5,1217.8 1665.5,1217.7 1667.6,1214.2 1669.6,1216.8 1671.6,1220.5 1673.7,1230.8 1675.7,1239.1 1677.7,1239.0 1679.8,1228.6 1681.8,1213.6 1683.9,1219.0 1685.9,1214.6 1687.9,1216.3 1690.0,1203.0 1692.0,1213.2 1694.0,1220.8 1696.1,1229.8 1698.1,1224.1 1700.1,1227.5 1702.2,1232.1 1704.2,1240.5 1706.3,1222.7 1708.3,1220.0 1710.3,1213.1 1712.4,1228.8 1714.4,1228.5 1716.4,1224.8 1718.5,1223.9 1720.5,1224.7 1722.6,1217.9 1724.6,1211.8 1726.6,1210.9 1728.7,1225.4 1730.7,1231.1 1732.7,1226.7 1734.8,1233.8 1736.8,1237.9 1738.8,1238.4 1740.9,1242.7 1742.9,1245.4 1745.0,1241.1 1747.0,1226.4 1749.0,1225.3 1751.1,1236.6 1753.1,1246.3 1755.1,1244.8 1757.2,1226.7 1759.2,1231.1 1761.2,1226.9 1763.3,1243.0 1765.3,1254.9 1767.4,1262.2 1769.4,1255.8 1771.4,1253.2 1773.5,1262.1 1775.5,1269.4 1777.5,1267.1 1779.6,1260.2 1781.6,1257.0 1783.7,1241.7 1785.7,1239.6 1787.7,1242.0 1789.8,1260.5 1791.8,1256.2 1793.8,1261.8 1795.9,1248.1 1797.9,1252.3 1799.9,1251.7 1802.0,1258.3 1804.0,1258.7 1806.1,1243.9 1808.1,1252.6 1810.1,1250.6 1812.2,1257.0 1814.2,1243.7 1816.2,1250.6 1818.3,1254.3 1820.3,1248.4 1822.4,1239.0 1824.4,1242.5 1826.4,1250.9 1828.5,1257.8 1830.5,1253.3 1832.5,1261.2 1834.6,1251.4 1836.6,1250.3 1838.6,1242.4 1840.7,1246.9 1842.7,1251.9 1844.8,1256.6 1846.8,1252.6 1848.8,1252.5 1850.9,1246.9 1852.9,1251.2 1854.9,1239.1 1857.0,1236.4 1859.0,1231.1 1861.1,1233.9 1863.1,1235.8 1865.1,1243.7 1867.2,1246.6 1869.2,1242.8 1871.2,1241.9 1873.3,1233.7 1875.3,1233.7 1877.3,1235.2 1879.4,1238.2 1881.4,1248.4 1883.5,1242.8 1885.5,1250.5 1887.5,1244.9 1889.6,1246.3 1891.6,1248.2 1893.6,1239.5 1895.7,1235.8 1897.7,1239.3 1899.8,1248.9 1901.8,1256.2 1903.8,1236.3 1905.9,1238.2 1907.9,1233.4 1909.9,1245.0 1912.0,1241.0 1914.0,1245.6 1916.0,1249.1 1918.1,1254.8 1920.1,1253.9 1922.2,1245.4 1924.2,1241.9 1926.2,1241.7 1928.3,1246.9 1930.3,1251.9 1932.3,1248.5 1934.4,1257.1 1936.4,1253.2 1938.4,1247.5 1940.5,1238.4 1942.5,1240.6 1944.6,1246.6 1946.6,1249.5 1948.6,1250.0 1950.7,1246.5 1952.7,1244.8 1954.7,1230.1 1956.8,1230.8 1958.8,1227.8 1960.9,1241.5 1962.9,1245.7 1964.9,1257.2 1967.0,1252.4 1969.0,1246.2 1971.0,1230.9 1973.1,1234.4 1975.1,1235.7 1977.1,1235.3 1979.2,1233.5 1981.2,1234.9 1983.3,1232.6 1985.3,1229.4 1987.3,1233.2 1989.4,1238.5 1991.4,1240.1 1993.4,1246.5 1995.5,1246.2 1997.5,1248.1 1999.6,1251.5 2001.6,1261.7 2003.6,1251.8 2005.7,1240.0 2007.7,1224.0 2009.7,1236.1 2011.8,1216.9 2013.8,1233.3 2015.8,1235.3 2017.9,1242.4 2019.9,1237.5 2022.0,1221.4 2024.0,1233.4 2026.0,1231.6 2028.1,1249.7 2030.1,1249.5 2032.1,1241.9 2034.2,1237.2 2036.2,1242.2 2038.3,1244.3 2040.3,1243.1 2042.3,1241.1 2044.4,1254.4 2046.4,1259.5 2048.4,1252.2 2050.5,1244.7 2052.5,1230.7 2054.5,1239.4 2056.6,1241.6 2058.6,1253.8 2060.7,1252.9 2062.7,1255.6 2064.7,1256.2 2066.8,1262.0 2068.8,1250.6 2070.8,1254.7 2072.9,1252.2 2074.9,1268.4 2076.9,1273.7 2079.0,1275.1 2081.0,1272.3 2083.1,1265.4" fill="none" stroke="#10f020" stroke-width="10" stroke-linejoin="round" stroke-linecap="round"/>
<polyline points="252.0,1466.4 254.4,1472.4 256.9,1486.3 259.3,1498.2 261.8,1490.7 264.2,1465.1 266.7,1462.7 269.1,1467.2 271.6,1469.0 274.0,1469.6 276.4,1459.6 278.9,1459.5 281.3,1473.5 283.8,1451.3 286.2,1454.2 288.7,1470.3 291.1,1472.7 293.6,1471.4 296.0,1481.2 298.4,1487.2 300.9,1463.8 303.3,1458.5 305.8,1470.3 308.2,1469.3 310.7,1465.3 313.1,1466.6 315.6,1465.6 318.0,1476.6 320.5,1476.5 322.9,1470.5 325.3,1469.3 327.8,1465.2 330.2,1476.1 332.7,1476.4 335.1,1476.5 337.6,1469.8 340.0,1463.8 342.5,1464.7 344.9,1471.3 347.3,1466.6 349.8,1461.6 352.2,1463.1 354.7,1456.0 357.1,1471.1 359.6,1474.4 362.0,1470.9 364.5,1470.4 366.9,1458.2 369.3,1456.5 371.8,1458.7 374.2,1470.1 376.7,1475.4 379.1,1465.9 381.6,1460.5 384.0,1466.5 386.5,1469.6 388.9,1463.2 391.3,1476.0 393.8,1485.0 396.2,1472.9 398.7,1473.7 401.1,1483.9 403.6,1471.2 406.0,1461.9 408.5,1468.8 410.9,1469.9 413.3,1470.9 415.8,1474.8 418.2,1475.1 420.7,1469.4 423.1,1458.5 425.6,1463.7 428.0,1472.2 430.5,1470.6 432.9,1477.9 435.4,1466.2 437.8,1461.9 440.2,1468.6 442.7,1468.8 445.1,1467.1 447.6,1465.1 450.0,1454.1 452.5,1463.5 454.9,1483.2 457.4,1483.1 459.8,1479.4 462.2,1485.4 464.7,1478.4 467.1,1462.1 469.6,1461.1 472.0,1470.9 474.5,1481.7 476.9,1484.1 479.4,1481.4 481.8,1474.5 484.2,1459.4 486.7,1472.8 489.1,1469.7 491.6,1470.6 494.0,1464.7 496.5,1460.6 498.9,1468.5 501.4,1470.6 503.8,1465.3 506.2,1457.9 508.7,1460.5 511.1,1460.1 513.6,1464.6 516.0,1474.9 518.5,1480.5 520.9,1465.2 523.4,1471.3 525.8,1482.7 528.2,1471.3 530.7,1468.3 533.1,1478.1 535.6,1469.0 538.0,1465.6 540.5,1465.8 542.9,1458.7 545.4,1468.5 547.8,1459.4 550.3,1463.4 552.7,1459.1 555.1,1462.1 557.6,1474.6 560.0,1472.2 562.5,1465.2 564.9,1468.0 567.4,1477.3 569.8,1474.5 572.3,1464.7 574.7,1469.3 577.1,1485.3 579.6,1484.0 582.0,1472.9 584.5,1475.9 586.9,1479.4 589.4,1488.1 591.8,1489.2 594.3,1477.6 596.7,1474.4 599.1,1473.6 601.6,1473.2 604.0,1481.7 606.5,1482.9 608.9,1487.4 611.4,1495.6 613.8,1479.2 616.3,1470.8 618.7,1489.3 621.1,1491.0 623.6,1482.4 626.0,1490.9 628.5,1487.2 630.9,1481.7 633.4,1474.5 635.8,1484.3 638.3,1495.6 640.7,1487.8 643.1,1496.6 645.6,1488.6 648.0,1466.7 650.5,1477.8 652.9,1486.4 655.4,1484.3 657.8,1485.1 660.3,1487.7 662.7,1484.4 665.1,1487.6 667.6,1484.4 670.0,1475.2 672.5,1468.8 674.9,1481.3 677.4,1496.8 679.8,1494.7 682.3,1495.1 684.7,1484.7 687.2,1489.6 689.6,1501.2 692.0,1506.3 694.5,1496.3 696.9,1477.9 699.4,1472.2 701.8,1480.0 704.3,1493.2 706.7,1495.8 709.2,1499.2 711.6,1506.8 714.0,1491.1 716.5,1483.3 718.9,1488.0 721.4,1488.1 723.8,1482.0 726.3,1471.7 728.7,1484.7 731.2,1495.9 733.6,1495.4 736.0,1485.2 738.5,1473.5 740.9,1483.4 743.4,1477.0 745.8,1475.1 748.3,1496.7 750.7,1509.4 753.2,1502.8 755.6,1488.4 758.0,1491.1 760.5,1490.9 762.9,1480.0 765.4,1482.6 767.8,1484.8 770.3,1474.3 772.7,1476.4 775.2,1490.2 777.6,1490.7 780.0,1483.9 782.5,1473.4 784.9,1479.4 787.4,1502.1 789.8,1497.6 792.3,1486.1 794.7,1490.5 797.2,1489.1 799.6,1484.6 802.1,1480.7 804.5,1487.8 806.9,1499.6 809.4,1494.6 811.8,1493.5 814.3,1485.5 816.7,1478.9 819.2,1486.9 821.6,1481.1 824.1,1477.9 826.5,1481.2 828.9,1479.3 831.4,1486.4 833.8,1492.2 836.3,1491.3 838.7,1497.2 841.2,1499.4 843.6,1487.5 846.1,1483.5 848.5,1506.9 850.9,1482.0 853.4,1482.6 855.8,1493.3 858.3,1482.5 860.7,1478.5 863.2,1488.3 865.6,1496.0 868.1,1491.9 870.5,1485.1 872.9,1481.5 875.4,1486.0 877.8,1485.0 880.3,1475.6 882.7,1474.7 885.2,1481.3 887.6,1491.2 890.1,1492.3 892.5,1494.3 894.9,1492.7 897.4,1484.1 899.8,1495.3 902.3,1503.2 904.7,1498.2 907.2,1490.3 909.6,1493.1 912.1,1495.7 914.5,1494.0 917.0,1495.1 919.4,1494.3 921.8,1489.3 924.3,1480.0 926.7,1477.6 929.2,1488.9 931.6,1482.8 934.1,1471.9 936.5,1483.3 939.0,1484.1 941.4,1485.7 943.8,1496.4 946.3,1497.5 948.7,1482.8 951.2,1477.4 953.6,1485.3 956.1,1485.6 958.5,1489.9 961.0,1487.2 963.4,1480.4 965.8,1471.2 968.3,1480.5 970.7,1483.0 973.2,1473.6 975.6,1493.4 978.1,1491.4 980.5,1470.8 983.0,1470.0 985.4,1478.2 987.8,1483.9 990.3,1497.4 992.7,1496.3 995.2,1483.0 997.6,1490.6 1000.1,1490.4 1002.5,1488.6 1005.0,1475.9 1007.4,1479.3 1009.8,1498.6 1012.3,1504.3 1014.7,1501.3 1017.2,1487.3 1019.6,1484.8 1022.1,1489.4 1024.5,1484.1 1027.0,1478.6 1029.4,1476.7 1031.9,1478.8 1034.3,1496.8 1036.7,1496.9 1039.2,1492.3 1041.6,1486.2 1044.1,1483.7 1046.5,1490.2 1049.0,1486.6 1051.4,1494.4 1053.9,1496.6 1056.3,1481.9 1058.7,1482.9 1061.2,1489.2 1063.6,1484.7 1066.1,1487.9 1068.5,1490.8 1071.0,1484.1 1073.4,1484.8 1075.9,1487.3 1078.3,1485.9 1080.7,1492.8 1083.2,1500.0 1085.6,1481.5 1088.1,1465.3 1090.5,1478.2 1093.0,1481.0 1095.4,1473.6 1097.9,1473.6 1100.3,1482.7 1102.7,1497.4 1105.2,1503.0 1107.6,1495.8 1110.1,1479.9 1112.5,1469.0 1115.0,1478.8 1117.4,1490.5 1119.9,1481.7 1122.3,1467.1 1124.7,1480.2 1127.2,1490.1 1129.6,1483.6 1132.1,1488.5 1134.5,1491.5 1137.0,1491.6 1139.4,1489.8 1141.9,1497.2 1144.3,1497.3 1146.8,1483.2 1149.2,1478.6 1151.6,1478.7 1154.1,1481.4 1156.5,1485.1 1159.0,1475.3 1161.4,1477.7 1163.9,1488.7 1166.3,1480.1 1168.8,1480.9 1171.2,1496.5 1173.6,1500.2 1176.1,1495.0 1178.5,1492.7 1181.0,1492.9 1183.4,1486.0 1185.9,1479.0 1188.3,1482.2 1190.8,1489.1 1193.2,1485.8 1195.6,1477.4 1198.1,1470.4 1200.5,1490.7 1203.0,1494.4 1205.4,1482.3 1207.9,1488.3 1210.3,1495.2 1212.8,1487.3 1215.2,1488.7 1217.6,1495.9 1220.1,1496.1 1222.5,1499.5 1225.0,1492.5 1227.4,1486.5 1229.9,1492.9 1232.3,1490.0 1234.8,1489.9 1237.2,1489.1 1239.6,1487.7 1242.1,1490.7 1244.5,1493.2 1247.0,1497.8 1249.4,1504.4 1251.9,1502.9 1254.3,1502.7 1256.8,1506.0 1259.2,1503.7 1261.6,1491.5 1264.1,1494.4 1266.5,1491.6 1269.0,1492.2 1271.4,1487.5 1273.9,1473.1 1276.3,1485.1 1278.8,1499.9 1281.2,1486.7 1283.7,1492.1 1286.1,1485.4 1288.5,1490.4 1291.0,1487.9 1293.4,1486.3 1295.9,1505.3 1298.3,1507.3 1300.8,1498.4 1303.2,1499.5 1305.7,1496.6 1308.1,1481.0 1310.5,1492.3 1313.0,1502.5 1315.4,1490.8 1317.9,1477.1 1320.3,1474.8 1322.8,1481.5 1325.2,1493.0 1327.7,1497.3 1330.1,1491.2 1332.5,1495.1 1335.0,1493.4 1337.4,1491.7 1339.9,1496.9 1342.3,1482.1 1344.8,1480.4 1347.2,1482.0 1349.7,1483.4 1352.1,1507.3 1354.5,1500.6 1357.0,1503.7 1359.4,1486.5 1361.9,1483.0 1364.3,1504.9 1366.8,1496.3 1369.2,1489.7 1371.7,1501.0 1374.1,1495.9 1376.5,1504.8 1379.0,1495.2 1381.4,1475.9 1383.9,1487.4 1386.3,1493.2 1388.8,1492.9 1391.2,1498.7 1393.7,1498.4 1396.1,1503.5 1398.6,1504.5 1401.0,1499.1 1403.4,1484.9 1405.9,1490.4 1408.3,1494.3 1410.8,1481.0 1413.2,1487.7 1415.7,1495.7 1418.1,1485.6 1420.6,1472.9 1423.0,1484.2 1425.4,1494.3 1427.9,1492.8 1430.3,1480.4 1432.8,1487.1 1435.2,1497.7 1437.7,1485.1 1440.1,1494.1 1442.6,1501.5 1445.0,1486.1 1447.4,1488.3 1449.9,1495.7 1452.3,1502.5 1454.8,1499.4 1457.2,1497.1 1459.7,1501.8 1462.1,1492.5 1464.6,1493.5 1467.0,1501.1 1469.4,1482.4 1471.9,1484.7 1474.3,1483.0 1476.8,1486.9 1479.2,1506.1 1481.7,1499.8 1484.1,1481.8 1486.6,1489.9 1489.0,1499.7 1491.4,1489.8 1493.9,1487.5 1496.3,1496.9 1498.8,1496.7 1501.2,1480.0 1503.7,1481.7 1506.1,1511.8 1508.6,1508.2 1511.0,1498.8 1513.5,1508.9 1515.9,1502.0 1518.3,1494.7 1520.8,1490.2 1523.2,1489.0 1525.7,1487.2 1528.1,1479.1 1530.6,1496.8 1533.0,1487.5 1535.5,1476.6 1537.9,1477.1 1540.3,1496.8 1542.8,1500.4 1545.2,1490.4 1547.7,1483.3 1550.1,1485.3 1552.6,1486.0 1555.0,1485.9 1557.5,1492.6 1559.9,1493.2 1562.3,1493.3 1564.8,1492.7 1567.2,1490.7 1569.7,1494.4 1572.1,1502.8 1574.6,1498.7 1577.0,1491.4 1579.5,1493.3 1581.9,1491.8 1584.3,1487.3 1586.8,1479.5 1589.2,1490.4 1591.7,1488.6 1594.1,1493.9 1596.6,1507.2 1599.0,1501.0 1601.5,1496.1 1603.9,1499.6 1606.3,1496.6 1608.8,1502.8 1611.2,1508.4 1613.7,1502.8 1616.1,1492.3 1618.6,1486.3 1621.0,1487.4 1623.5,1493.0 1625.9,1486.8 1628.4,1498.0 1630.8,1505.0 1633.2,1484.0 1635.7,1474.2 1638.1,1474.5 1640.6,1476.0 1643.0,1476.8 1645.5,1484.0 1647.9,1503.8 1650.4,1507.5 1652.8,1495.4 1655.2,1482.6 1657.7,1483.3 1660.1,1494.9 1662.6,1488.2 1665.0,1491.8 1667.5,1495.4 1669.9,1486.0 1672.4,1488.0 1674.8,1491.6 1677.2,1500.3 1679.7,1507.4 1682.1,1498.0 1684.6,1483.4 1687.0,1485.2 1689.5,1497.7 1691.9,1499.0 1694.4,1489.3 1696.8,1493.0 1699.2,1495.8 1701.7,1489.2 1704.1,1489.7 1706.6,1491.9 1709.0,1491.6 1711.5,1478.7 1713.9,1480.9 1716.4,1492.3 1718.8,1506.4 1721.2,1500.7 1723.7,1489.1 1726.1,1489.9 1728.6,1485.5 1731.0,1492.8 1733.5,1497.6 1735.9,1501.1 1738.4,1485.2 1740.8,1471.5 1743.3,1478.7 1745.7,1477.2 1748.1,1474.0 1750.6,1476.1 1753.0,1478.5 1755.5,1468.7 1757.9,1485.6 1760.4,1499.6 1762.8,1493.0 1765.3,1494.0 1767.7,1505.7 1770.1,1511.2 1772.6,1492.6 1775.0,1493.9 1777.5,1495.6 1779.9,1493.1 1782.4,1497.7 1784.8,1502.0 1787.3,1504.9 1789.7,1505.1 1792.1,1498.1 1794.6,1499.7 1797.0,1501.0 1799.5,1493.7 1801.9,1496.7 1804.4,1473.4 1806.8,1485.1 1809.3,1497.7 1811.7,1496.0 1814.1,1487.8 1816.6,1491.2 1819.0,1485.1 1821.5,1480.6 1823.9,1484.7 1826.4,1498.2 1828.8,1497.0 1831.3,1489.5 1833.7,1473.1 1836.1,1485.1 1838.6,1495.1 1841.0,1495.8 1843.5,1505.1 1845.9,1498.0 1848.4,1480.1 1850.8,1488.0 1853.3,1488.8 1855.7,1493.6 1858.2,1486.7 1860.6,1481.3 1863.0,1494.7 1865.5,1480.8 1867.9,1483.5 1870.4,1493.2 1872.8,1492.2 1875.3,1497.9 1877.7,1494.3 1880.2,1494.5 1882.6,1483.8 1885.0,1473.5 1887.5,1485.9 1889.9,1478.1 1892.4,1474.9 1894.8,1490.5 1897.3,1487.9 1899.7,1493.1 1902.2,1487.4 1904.6,1486.7 1907.0,1502.7 1909.5,1490.8 1911.9,1488.9 1914.4,1497.0 1916.8,1499.0 1919.3,1500.3 1921.7,1492.4 1924.2,1504.5 1926.6,1505.8 1929.0,1496.2 1931.5,1487.4 1933.9,1470.2 1936.4,1475.7 1938.8,1484.5 1941.3,1481.4 1943.7,1478.6 1946.2,1493.9 1948.6,1508.5 1951.0,1502.9 1953.5,1503.5 1955.9,1502.8 1958.4,1493.8 1960.8,1496.8 1963.3,1494.8 1965.7,1481.3 1968.2,1484.0 1970.6,1490.2 1973.0,1490.8 1975.5,1494.1 1977.9,1497.1 1980.4,1503.6 1982.8,1497.2 1985.3,1483.8 1987.7,1487.6 1990.2,1493.7 1992.6,1501.9 1995.1,1504.1 1997.5,1494.1 1999.9,1493.3 2002.4,1494.9 2004.8,1500.6 2007.3,1508.7 2009.7,1504.3 2012.2,1487.6 2014.6,1488.5 2017.1,1506.8 2019.5,1508.5 2021.9,1500.8 2024.4,1489.6 2026.8,1481.9 2029.3,1494.1 2031.7,1506.9 2034.2,1503.7 2036.6,1497.7 2039.1,1502.3 2041.5,1496.5 2043.9,1493.3 2046.4,1497.7 2048.8,1496.3 2051.3,1494.8 2053.7,1494.4 2056.2,1496.1 2058.6,1488.1 2061.1,1488.3 2063.5,1487.1 2065.9,1496.2 2068.4,1506.3 2070.8,1505.0 2073.3,1511.4 2075.7,1506.6 2078.2,1486.6 2080.6,1485.0 2083.1,1490.5" fill="none" stroke="#ff00ff" stroke-width="10" stroke-linejoin="round" stroke-linecap="round"/>
<rect x="1793" y="448" width="270" height="346" fill="#fff" stroke="#262626" stroke-width="3"/>
<line x1="1808" y1="497" x2="1976" y2="497" stroke="#0000e0" stroke-width="8.6"/>
<text x="1990" y="513" font-family="'Liberation Serif', 'Times New Roman', serif" font-size="64" font-style="italic" fill="#111">c</text>
<text x="2018" y="524" font-family="'Liberation Serif', 'Times New Roman', serif" font-size="50" fill="#111">0</text>
<line x1="1808" y1="580" x2="1976" y2="580" stroke="#e00010" stroke-width="8.6"/>
<text x="1990" y="596" font-family="'Liberation Serif', 'Times New Roman', serif" font-size="64" font-style="italic" fill="#111">c</text>
<text x="2018" y="607" font-family="'Liberation Serif', 'Times New Roman', serif" font-size="50" fill="#111">2</text>
<line x1="1808" y1="663" x2="1976" y2="663" stroke="#10e810" stroke-width="8.6"/>
<text x="1990" y="679" font-family="'Liberation Serif', 'Times New Roman', serif" font-size="64" font-style="italic" fill="#111">c</text>
<text x="2018" y="690" font-family="'Liberation Serif', 'Times New Roman', serif" font-size="50" fill="#111">3</text>
<line x1="1808" y1="746" x2="1976" y2="746" stroke="#f010e0" stroke-width="8.6"/>
<text x="1990" y="762" font-family="'Liberation Serif', 'Times New Roman', serif" font-size="64" font-style="italic" fill="#111">c</text>
<text x="2018" y="773" font-family="'Liberation Serif', 'Times New Roman', serif" font-size="50" fill="#111">4</text>
<text class="lb" x="1056" y="1671" fill="#222" style="font-size:72px" textLength="221" lengthAdjust="spacing">Time, s</text>
<g transform="translate(124,0) rotate(-90)" fill="#222"><text class="lb" x="-910" y="0" text-anchor="middle">|</text><text class="lb it" x="-880.5" y="0" text-anchor="middle">c</text><text class="lb it" x="-851.5" y="10" text-anchor="middle" style="font-size:50px">n</text><text class="lb" x="-807" y="0" text-anchor="middle">|</text><text class="lb" x="-789" y="0" text-anchor="middle">,</text><text class="lb" x="-699" y="0" text-anchor="middle">mm</text></g>
<text x="1096" y="1799" text-anchor="middle" font-family="'Liberation Serif', 'Times New Roman', serif" font-size="83" fill="#000">(<tspan font-weight="bold" font-size="88">a</tspan>)</text>
<line x1="436.4" y1="1953" x2="436.4" y2="3368" stroke="#262626" stroke-opacity="0.15" stroke-width="4"/>
<line x1="635.9" y1="1953" x2="635.9" y2="3368" stroke="#262626" stroke-opacity="0.15" stroke-width="4"/>
<line x1="835.3" y1="1953" x2="835.3" y2="3368" stroke="#262626" stroke-opacity="0.15" stroke-width="4"/>
<line x1="1034.8" y1="1953" x2="1034.8" y2="3368" stroke="#262626" stroke-opacity="0.15" stroke-width="4"/>
<line x1="1234.2" y1="1953" x2="1234.2" y2="3368" stroke="#262626" stroke-opacity="0.15" stroke-width="4"/>
<line x1="1433.6" y1="1953" x2="1433.6" y2="3368" stroke="#262626" stroke-opacity="0.15" stroke-width="4"/>
<line x1="1633.1" y1="1953" x2="1633.1" y2="3368" stroke="#262626" stroke-opacity="0.15" stroke-width="4"/>
<line x1="1832.5" y1="1953" x2="1832.5" y2="3368" stroke="#262626" stroke-opacity="0.15" stroke-width="4"/>
<line x1="237" y1="2896.3" x2="2032" y2="2896.3" stroke="#262626" stroke-opacity="0.17" stroke-width="4"/>
<line x1="237" y1="2424.7" x2="2032" y2="2424.7" stroke="#262626" stroke-opacity="0.17" stroke-width="4"/>
<rect x="237" y="1953" width="1795" height="1415" fill="none" stroke="#262626" stroke-width="4"/>
<line x1="237" y1="1951" x2="237" y2="3370" stroke="#000" stroke-width="4"/>
<line x1="2032" y1="1951" x2="2032" y2="3370" stroke="#000" stroke-width="4"/>
<line x1="237.0" y1="3368" x2="237.0" y2="3348" stroke="#262626" stroke-width="4"/>
<line x1="237.0" y1="1953" x2="237.0" y2="1973" stroke="#262626" stroke-width="4"/>
<text class="tk" transform="translate(237.0,3449) scale(0.945,1)" text-anchor="middle" fill="#222" style="font-size:58.5px">0</text>
<line x1="436.4" y1="3368" x2="436.4" y2="3348" stroke="#262626" stroke-width="4"/>
<line x1="436.4" y1="1953" x2="436.4" y2="1973" stroke="#262626" stroke-width="4"/>
<text class="tk" transform="translate(436.4,3449) scale(0.945,1)" text-anchor="middle" fill="#222" style="font-size:58.5px">10</text>
<line x1="635.9" y1="3368" x2="635.9" y2="3348" stroke="#262626" stroke-width="4"/>
<line x1="635.9" y1="1953" x2="635.9" y2="1973" stroke="#262626" stroke-width="4"/>
<text class="tk" transform="translate(635.9,3449) scale(0.945,1)" text-anchor="middle" fill="#222" style="font-size:58.5px">20</text>
<line x1="835.3" y1="3368" x2="835.3" y2="3348" stroke="#262626" stroke-width="4"/>
<line x1="835.3" y1="1953" x2="835.3" y2="1973" stroke="#262626" stroke-width="4"/>
<text class="tk" transform="translate(835.3,3449) scale(0.945,1)" text-anchor="middle" fill="#222" style="font-size:58.5px">30</text>
<line x1="1034.8" y1="3368" x2="1034.8" y2="3348" stroke="#262626" stroke-width="4"/>
<line x1="1034.8" y1="1953" x2="1034.8" y2="1973" stroke="#262626" stroke-width="4"/>
<text class="tk" transform="translate(1034.8,3449) scale(0.945,1)" text-anchor="middle" fill="#222" style="font-size:58.5px">40</text>
<line x1="1234.2" y1="3368" x2="1234.2" y2="3348" stroke="#262626" stroke-width="4"/>
<line x1="1234.2" y1="1953" x2="1234.2" y2="1973" stroke="#262626" stroke-width="4"/>
<text class="tk" transform="translate(1234.2,3449) scale(0.945,1)" text-anchor="middle" fill="#222" style="font-size:58.5px">50</text>
<line x1="1433.6" y1="3368" x2="1433.6" y2="3348" stroke="#262626" stroke-width="4"/>
<line x1="1433.6" y1="1953" x2="1433.6" y2="1973" stroke="#262626" stroke-width="4"/>
<text class="tk" transform="translate(1433.6,3449) scale(0.945,1)" text-anchor="middle" fill="#222" style="font-size:58.5px">60</text>
<line x1="1633.1" y1="3368" x2="1633.1" y2="3348" stroke="#262626" stroke-width="4"/>
<line x1="1633.1" y1="1953" x2="1633.1" y2="1973" stroke="#262626" stroke-width="4"/>
<text class="tk" transform="translate(1633.1,3449) scale(0.945,1)" text-anchor="middle" fill="#222" style="font-size:58.5px">70</text>
<line x1="1832.5" y1="3368" x2="1832.5" y2="3348" stroke="#262626" stroke-width="4"/>
<line x1="1832.5" y1="1953" x2="1832.5" y2="1973" stroke="#262626" stroke-width="4"/>
<text class="tk" transform="translate(1832.5,3449) scale(0.945,1)" text-anchor="middle" fill="#222" style="font-size:58.5px">80</text>
<line x1="2032.0" y1="3368" x2="2032.0" y2="3348" stroke="#262626" stroke-width="4"/>
<line x1="2032.0" y1="1953" x2="2032.0" y2="1973" stroke="#262626" stroke-width="4"/>
<text class="tk" transform="translate(2032.0,3449) scale(0.945,1)" text-anchor="middle" fill="#222" style="font-size:58.5px">90</text>
<line x1="237" y1="3368.0" x2="257" y2="3368.0" stroke="#000" stroke-width="4"/>
<text class="tk" transform="translate(214,3390.0) scale(0.945,1)" text-anchor="end" fill="#000" style="font-size:58.5px">0</text>
<line x1="237" y1="2896.3" x2="257" y2="2896.3" stroke="#000" stroke-width="4"/>
<text class="tk" transform="translate(214,2918.3) scale(0.945,1)" text-anchor="end" fill="#000" style="font-size:58.5px">50</text>
<line x1="237" y1="2424.7" x2="257" y2="2424.7" stroke="#000" stroke-width="4"/>
<text class="tk" transform="translate(214,2446.7) scale(0.945,1)" text-anchor="end" fill="#000" style="font-size:58.5px">100</text>
<line x1="237" y1="1953.0" x2="257" y2="1953.0" stroke="#000" stroke-width="4"/>
<text class="tk" transform="translate(214,1975.0) scale(0.945,1)" text-anchor="end" fill="#000" style="font-size:58.5px">150</text>
<line x1="2012" y1="3368.0" x2="2032" y2="3368.0" stroke="#000" stroke-width="4"/>
<text class="tk" transform="translate(2054,3390.0) scale(0.945,1)" text-anchor="start" fill="#000" style="font-size:58.5px">0</text>
<line x1="2012" y1="2896.3" x2="2032" y2="2896.3" stroke="#000" stroke-width="4"/>
<text class="tk" transform="translate(2054,2918.3) scale(0.945,1)" text-anchor="start" fill="#000" style="font-size:58.5px">5</text>
<line x1="2012" y1="2424.7" x2="2032" y2="2424.7" stroke="#000" stroke-width="4"/>
<text class="tk" transform="translate(2054,2446.7) scale(0.945,1)" text-anchor="start" fill="#000" style="font-size:58.5px">10</text>
<line x1="2012" y1="1953.0" x2="2032" y2="1953.0" stroke="#000" stroke-width="4"/>
<text class="tk" transform="translate(2054,1975.0) scale(0.945,1)" text-anchor="start" fill="#000" style="font-size:58.5px">15</text>
<polyline points="237.0,2009.6 416.5,2454.9 596.0,2690.7 775.5,2846.4 955.0,2950.1 1134.5,3032.2 1314.0,3118.0 1493.5,3193.5 1673.0,3246.3 1852.5,3281.2 2032.0,3284.0" fill="none" stroke="#00ff00" stroke-width="9" stroke-linejoin="round" stroke-dasharray="33 33"/>
<polyline points="237.0,2273.8 416.5,2603.9 596.0,2814.3 775.5,2945.4 955.0,3039.7 1134.5,3123.7 1314.0,3202.9 1493.5,3270.8 1673.0,3315.2 1852.5,3331.2 2032.0,3333.1" fill="none" stroke="#00ff00" stroke-width="9" stroke-linejoin="round" stroke-dasharray="33 33"/>
<polyline points="237.0,2143.6 416.5,2531.3 596.0,2754.9 775.5,2894.5 955.0,2996.3 1134.5,3080.3 1314.0,3162.4 1493.5,3232.2 1673.0,3283.1 1852.5,3303.9 2032.0,3305.7" fill="none" stroke="#00ff00" stroke-width="9" stroke-linejoin="round"/>
<polyline points="237.0,3202.9 416.5,3264.2 596.0,3291.0 775.5,3300.1 955.0,3306.7 1134.5,3309.0 1314.0,3310.5 1493.5,3310.5 1673.0,3308.6 1852.5,3300.1 2032.0,3297.3" fill="none" stroke="#ff00ff" stroke-width="9" stroke-linejoin="round" stroke-dasharray="33 33"/>
<polyline points="237.0,3322.7 416.5,3335.9 596.0,3343.8 775.5,3345.4 955.0,3345.4 1134.5,3344.4 1314.0,3340.6 1493.5,3339.7 1673.0,3337.8 1852.5,3334.0 2032.0,3333.1" fill="none" stroke="#ff00ff" stroke-width="9" stroke-linejoin="round" stroke-dasharray="33 33"/>
<polyline points="237.0,3262.8 416.5,3300.1 596.0,3318.9 775.5,3324.0 955.0,3325.6 1134.5,3327.4 1314.0,3326.0 1493.5,3324.6 1673.0,3321.8 1852.5,3316.1 2032.0,3314.2" fill="none" stroke="#ff00ff" stroke-width="9" stroke-linejoin="round"/>
<polyline points="237.0,2795.4 336.7,2749.2 416.5,2715.2 476.3,2696.4 596.0,2660.5 695.7,2635.5 835.3,2607.2 1034.8,2558.2 1234.2,2506.3 1393.8,2462.0 1433.6,2449.7 1633.1,2387.4 1832.5,2312.0 2032.0,2221.4" fill="none" stroke="#0000ff" stroke-width="9" stroke-linejoin="round" stroke-dasharray="33 33"/>
<polyline points="237.0,2831.3 336.7,2773.7 416.5,2726.6 476.3,2703.0 596.0,2666.2 695.7,2640.2 835.3,2611.9 1034.8,2562.9 1234.2,2511.0 1393.8,2466.7 1433.6,2454.4 1633.1,2392.2 1832.5,2316.7 2032.0,2226.1" fill="none" stroke="#0000ff" stroke-width="9" stroke-linejoin="round" stroke-dasharray="33 33"/>
<polyline points="237.0,2813.3 416.5,2720.0 596.0,2663.4 695.7,2637.9 835.3,2609.6 1034.8,2560.5 1234.2,2508.7 1393.8,2464.3 1433.6,2452.1 1633.1,2389.8 1832.5,2314.3 2032.0,2223.8" fill="none" stroke="#0000ff" stroke-width="9" stroke-linejoin="round"/>
<line x1="2032" y1="1951" x2="2032" y2="3370" stroke="#000" stroke-width="4"/>
<rect x="1659.5" y="2000" width="264.5" height="258" fill="#fff" stroke="#262626" stroke-width="3.5"/>
<line x1="1675" y1="2047.5" x2="1841" y2="2047.5" stroke="#0000ff" stroke-width="9"/>
<text x="1852" y="2065.5" font-family="'Liberation Serif', 'Times New Roman', serif" font-size="68" font-style="italic" fill="#000">c</text>
<text x="1882" y="2073.5" font-family="'Liberation Serif', 'Times New Roman', serif" font-size="48" fill="#000">0</text>
<line x1="1675" y1="2129.5" x2="1841" y2="2129.5" stroke="#00ff00" stroke-width="9"/>
<text x="1852" y="2147.5" font-family="'Liberation Serif', 'Times New Roman', serif" font-size="68" font-style="italic" fill="#000">c</text>
<text x="1882" y="2155.5" font-family="'Liberation Serif', 'Times New Roman', serif" font-size="48" fill="#000">3</text>
<line x1="1675" y1="2211.5" x2="1841" y2="2211.5" stroke="#ff00ff" stroke-width="9"/>
<text x="1852" y="2229.5" font-family="'Liberation Serif', 'Times New Roman', serif" font-size="68" font-style="italic" fill="#000">c</text>
<text x="1882" y="2237.5" font-family="'Liberation Serif', 'Times New Roman', serif" font-size="48" fill="#000">4</text>
<text class="lb" x="1135" y="3525" text-anchor="middle" fill="#222">Level, mm</text>
<g transform="translate(82,0) rotate(-90)" fill="#000"><text class="lb" x="-2792" y="0" text-anchor="middle">|</text><text class="lb it" x="-2748.5" y="0" text-anchor="middle">c</text><line x1="-2749" y1="-37" x2="-2724" y2="-37" stroke="#000" stroke-width="3.5"/><text class="lb" x="-2723.5" y="11" text-anchor="middle" style="font-size:50px">0</text><text class="lb" x="-2681.5" y="0" text-anchor="middle">|</text><text class="lb" x="-2662" y="0" text-anchor="middle">,</text><text class="lb" x="-2576" y="0" text-anchor="middle">mm</text></g>
<g transform="translate(2190,0) rotate(-90)" fill="#000"><text class="lb" x="-2865" y="0" text-anchor="middle">|</text><text class="lb it" x="-2810" y="0" text-anchor="middle">c</text><line x1="-2821" y1="-40" x2="-2791" y2="-40" stroke="#000" stroke-width="3.5"/><text class="lb" x="-2780" y="11" text-anchor="middle" style="font-size:50px">3</text><text class="lb" x="-2754.4" y="0" text-anchor="middle">|</text><text class="lb" x="-2735.8" y="0" text-anchor="middle">,</text><text class="lb" x="-2718" y="0" text-anchor="middle">|</text><text class="lb it" x="-2670" y="0" text-anchor="middle">c</text><line x1="-2676" y1="-40" x2="-2652" y2="-40" stroke="#000" stroke-width="3.5"/><text class="lb" x="-2647" y="11" text-anchor="middle" style="font-size:50px">4</text><text class="lb" x="-2607.5" y="0" text-anchor="middle">|</text><text class="lb" x="-2590" y="0" text-anchor="middle">,</text><text class="lb" x="-2502" y="0" text-anchor="middle">mm</text></g>
<text x="1095" y="3650" text-anchor="middle" font-family="'Liberation Serif', 'Times New Roman', serif" font-size="83" fill="#000">(<tspan font-weight="bold" font-size="88">b</tspan>)</text>
</svg>
</body></html>
